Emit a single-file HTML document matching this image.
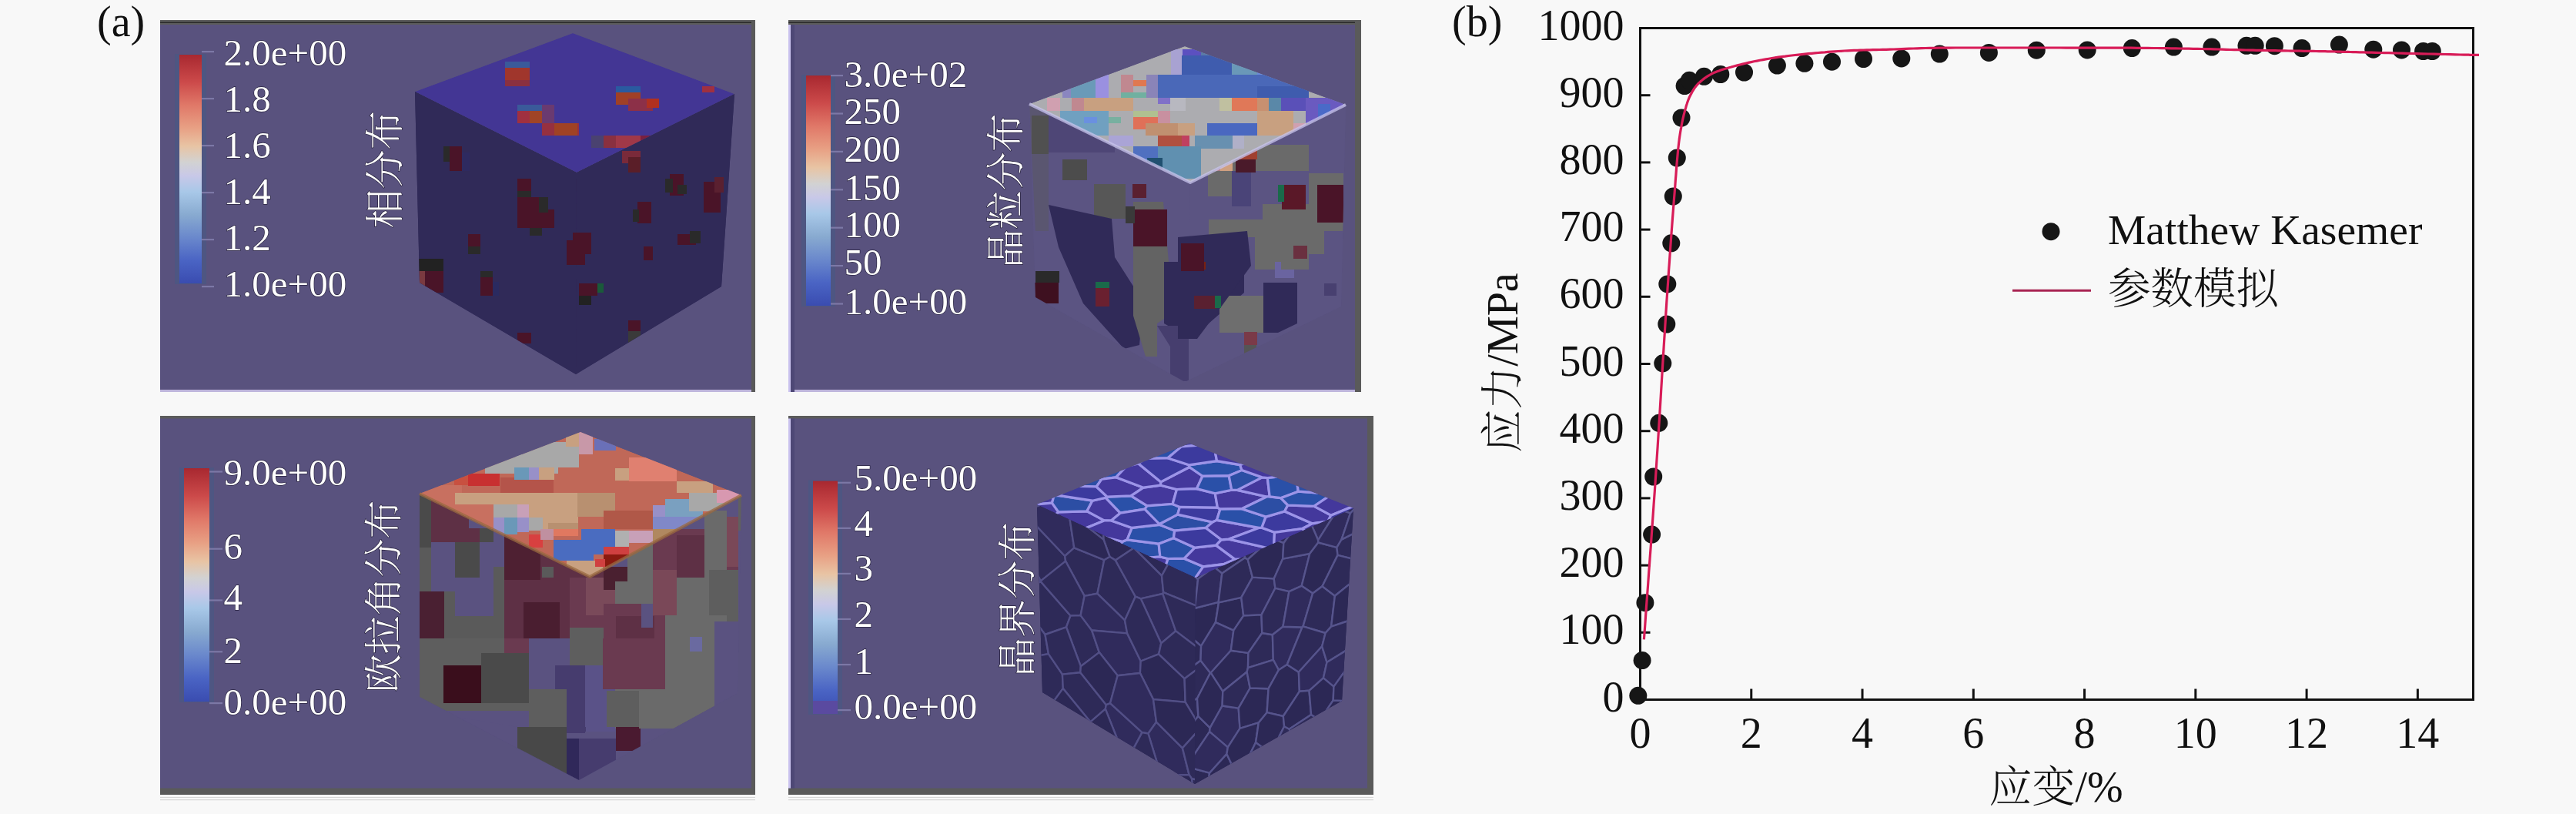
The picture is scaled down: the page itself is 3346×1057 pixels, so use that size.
<!DOCTYPE html><html><head><meta charset="utf-8"><style>html,body{margin:0;padding:0;background:#f8f8f8;}svg{display:block} text{font-family:'Liberation Serif', 'Noto Serif CJK SC', serif;}</style></head><body>
<svg width="3346" height="1057" viewBox="0 0 3346 1057">
<rect width="3346" height="1057" fill="#f8f8f8"/>
<text x="126" y="47" font-size="56" fill="#111">(a)</text>
<text x="1886" y="47" font-size="56" fill="#111">(b)</text>
<rect x="208" y="26" width="773" height="483" fill="#59527e"/>
<rect x="208" y="26" width="773" height="6" fill="#5c5c5c"/>
<rect x="208" y="28.5" width="773" height="1.5" fill="#2a2a2a"/>
<rect x="976" y="26" width="5" height="483" fill="#5a5a5a"/>
<rect x="208" y="506" width="768" height="3" fill="#d8d0f4" opacity="0.8"/>
<rect x="1024" y="26" width="744" height="483" fill="#59527e"/>
<rect x="1024" y="26" width="744" height="6" fill="#5c5c5c"/>
<rect x="1024" y="28.5" width="744" height="1.5" fill="#2a2a2a"/>
<rect x="1760" y="26" width="8" height="483" fill="#5a5a5a"/>
<rect x="1024" y="506" width="736" height="3" fill="#d8d0f4" opacity="0.8"/>
<rect x="1024" y="32" width="3" height="477" fill="#c9c2ee"/>
<rect x="1027" y="32" width="5" height="477" fill="#4e4876"/>
<rect x="208" y="540" width="773" height="492" fill="#59527e"/>
<rect x="208" y="540" width="773" height="3.5" fill="#5c5c5c"/>
<rect x="976" y="540" width="5" height="492" fill="#5a5a5a"/>
<rect x="208" y="1023.5" width="773" height="8.5" fill="#5a5a5a"/>
<rect x="1024" y="540" width="760" height="492" fill="#59527e"/>
<rect x="1024" y="540" width="760" height="3.5" fill="#5c5c5c"/>
<rect x="1776" y="540" width="8" height="492" fill="#5a5a5a"/>
<rect x="1024" y="1023.5" width="760" height="8.5" fill="#5a5a5a"/>
<rect x="1024" y="543.5" width="3" height="480.0" fill="#c9c2ee"/>
<rect x="1027" y="543.5" width="5" height="480.0" fill="#4e4876"/>
<rect x="208" y="1032.5" width="773" height="2" fill="#ffffff"/>
<rect x="208" y="1034.8" width="773" height="1.2" fill="#d6d6d6"/>
<rect x="208" y="1038" width="773" height="1.2" fill="#d6d6d6"/>
<rect x="1024" y="1032.5" width="760" height="2" fill="#ffffff"/>
<rect x="1024" y="1034.8" width="760" height="1.2" fill="#d6d6d6"/>
<rect x="1024" y="1038" width="760" height="1.2" fill="#d6d6d6"/>
<linearGradient id="cb1" x1="0" y1="0" x2="0" y2="1"><stop offset="0" stop-color="#a82830"/><stop offset="0.12" stop-color="#cc4a4a"/><stop offset="0.21999999999999997" stop-color="#e07868"/><stop offset="0.31999999999999995" stop-color="#e8a084"/><stop offset="0.4" stop-color="#e8c4a4"/><stop offset="0.47" stop-color="#d2d2d2"/><stop offset="0.53" stop-color="#c8c8e8"/><stop offset="0.6" stop-color="#a8c8e8"/><stop offset="0.7" stop-color="#88aad0"/><stop offset="0.8" stop-color="#6a88cc"/><stop offset="0.9" stop-color="#4a64c4"/><stop offset="1" stop-color="#3a4cb0"/></linearGradient>
<rect x="227" y="70" width="41" height="299" fill="#4e5682"/>
<rect x="233" y="71" width="29" height="297" fill="url(#cb1)"/>
<text x="290.5" y="85" font-size="49" fill="#fff" text-anchor="start" style="paint-order:stroke" stroke="#2a2540" stroke-width="1.4">2.0e+00</text>
<text x="290.5" y="145" font-size="49" fill="#fff" text-anchor="start" style="paint-order:stroke" stroke="#2a2540" stroke-width="1.4">1.8</text>
<text x="290.5" y="205" font-size="49" fill="#fff" text-anchor="start" style="paint-order:stroke" stroke="#2a2540" stroke-width="1.4">1.6</text>
<text x="290.5" y="265" font-size="49" fill="#fff" text-anchor="start" style="paint-order:stroke" stroke="#2a2540" stroke-width="1.4">1.4</text>
<text x="290.5" y="325" font-size="49" fill="#fff" text-anchor="start" style="paint-order:stroke" stroke="#2a2540" stroke-width="1.4">1.2</text>
<text x="290.5" y="384.5" font-size="49" fill="#fff" text-anchor="start" style="paint-order:stroke" stroke="#2a2540" stroke-width="1.4">1.0e+00</text>
<rect x="262" y="66" width="16" height="2.2" fill="#7c78a6"/>
<rect x="262" y="127" width="16" height="2.2" fill="#7c78a6"/>
<rect x="262" y="188" width="16" height="2.2" fill="#7c78a6"/>
<rect x="262" y="249" width="16" height="2.2" fill="#7c78a6"/>
<rect x="262" y="310" width="16" height="2.2" fill="#7c78a6"/>
<rect x="262" y="371" width="16" height="2.2" fill="#7c78a6"/>
<text x="0" y="0" font-size="51" fill="#fff" text-anchor="middle" dominant-baseline="central" transform="translate(500.5,220) rotate(-90)" font-weight="300" style="font-family:'Liberation Serif', 'Noto Serif CJK SC', serif;paint-order:stroke" stroke="#2a2540" stroke-width="1.5">相分布</text>
<clipPath id="c1s"><polygon points="539.0,119.0 749.0,224.0 954.0,122.0 937.0,372.0 748.0,486.0 545.0,367.0"/></clipPath>
<polygon points="539.0,119.0 749.0,224.0 954.0,122.0 937.0,372.0 748.0,486.0 545.0,367.0" fill="#302a58"/>
<polygon points="539.0,119.0 749.0,224.0 748.0,486.0 545.0,367.0" fill="#302a58"/>
<polygon points="749.0,224.0 954.0,122.0 937.0,372.0 748.0,486.0" fill="#302a58"/>
<g clip-path="url(#c1s)">
<rect x="584" y="190" width="16" height="32" fill="#4a1428"/>
<rect x="576" y="190" width="8" height="20" fill="#2a2a2a"/>
<rect x="600" y="198" width="10" height="24" fill="#2e2a60"/>
<rect x="672" y="232" width="18" height="16" fill="#4a1428"/>
<rect x="672" y="248" width="18" height="8" fill="#2a2a2a"/>
<rect x="672" y="256" width="32" height="40" fill="#4a1428"/>
<rect x="704" y="272" width="16" height="24" fill="#4a1428"/>
<rect x="700" y="256" width="12" height="20" fill="#2a2a2a"/>
<rect x="688" y="296" width="16" height="10" fill="#2a2a2a"/>
<rect x="608" y="304" width="16" height="16" fill="#4a1428"/>
<rect x="608" y="320" width="16" height="10" fill="#2a2a2a"/>
<rect x="544" y="336" width="32" height="16" fill="#222222"/>
<rect x="552" y="352" width="24" height="28" fill="#4a1428"/>
<rect x="544" y="352" width="8" height="20" fill="#7a3a40"/>
<rect x="624" y="352" width="16" height="8" fill="#2a2a2a"/>
<rect x="624" y="360" width="16" height="24" fill="#4a1428"/>
<rect x="640" y="366" width="8" height="18" fill="#2a2a60"/>
<rect x="672" y="432" width="18" height="14" fill="#4a1428"/>
<rect x="736" y="312" width="24" height="32" fill="#4a1428"/>
<rect x="808" y="196" width="24" height="16" fill="#7a2a3a"/>
<rect x="816" y="204" width="16" height="20" fill="#5a1e28"/>
<rect x="870" y="226" width="18" height="28" fill="#4a1428"/>
<rect x="864" y="232" width="10" height="18" fill="#2a2a2a"/>
<rect x="880" y="240" width="12" height="12" fill="#2a2a2a"/>
<rect x="914" y="236" width="22" height="40" fill="#4a1428"/>
<rect x="928" y="230" width="12" height="20" fill="#5a2030"/>
<rect x="828" y="262" width="18" height="28" fill="#4a1428"/>
<rect x="822" y="272" width="8" height="16" fill="#2a2a2a"/>
<rect x="744" y="302" width="24" height="28" fill="#4a1428"/>
<rect x="880" y="304" width="24" height="14" fill="#4a1428"/>
<rect x="896" y="300" width="14" height="16" fill="#2a2a2a"/>
<rect x="836" y="320" width="12" height="18" fill="#4a1428"/>
<rect x="752" y="368" width="24" height="16" fill="#4a1428"/>
<rect x="752" y="384" width="16" height="12" fill="#222222"/>
<rect x="776" y="368" width="8" height="12" fill="#1a5a3a"/>
<rect x="816" y="416" width="16" height="14" fill="#4a1428"/>
<rect x="816" y="430" width="16" height="18" fill="#3a3a3a"/>
<rect x="800" y="32" width="0" height="0" fill="#000"/>
</g>
<clipPath id="c1t"><polygon points="539.0,119.0 744.0,43.0 954.0,122.0 749.0,224.0"/></clipPath>
<g clip-path="url(#c1t)">
<polygon points="539.0,119.0 744.0,43.0 954.0,122.0 749.0,224.0" fill="#433694"/>
<rect x="656" y="80" width="32" height="8" fill="#3a5a9a"/>
<rect x="656" y="88" width="32" height="16" fill="#a0362c"/>
<rect x="656" y="104" width="32" height="8" fill="#8a3040"/>
<rect x="672" y="136" width="32" height="8" fill="#3a5a9a"/>
<rect x="672" y="144" width="32" height="16" fill="#a03040"/>
<rect x="688" y="144" width="16" height="16" fill="#a04426"/>
<rect x="704" y="136" width="16" height="24" fill="#6a3a70"/>
<rect x="704" y="160" width="48" height="16" fill="#963040"/>
<rect x="720" y="160" width="30" height="16" fill="#a04224"/>
<rect x="800" y="112" width="32" height="8" fill="#2a5aa0"/>
<rect x="800" y="120" width="32" height="16" fill="#a04026"/>
<rect x="816" y="128" width="32" height="16" fill="#8c3048"/>
<rect x="840" y="128" width="16" height="12" fill="#b03020"/>
<rect x="800" y="176" width="32" height="16" fill="#a03848"/>
<rect x="832" y="176" width="16" height="8" fill="#7a2040"/>
<rect x="768" y="176" width="16" height="16" fill="#4a4270"/>
<rect x="784" y="176" width="16" height="16" fill="#8a3040"/>
<rect x="912" y="112" width="16" height="8" fill="#a03040"/>
</g>
<linearGradient id="cb2" x1="0" y1="0" x2="0" y2="1"><stop offset="0" stop-color="#a82830"/><stop offset="0.12" stop-color="#cc4a4a"/><stop offset="0.21999999999999997" stop-color="#e07868"/><stop offset="0.31999999999999995" stop-color="#e8a084"/><stop offset="0.4" stop-color="#e8c4a4"/><stop offset="0.47" stop-color="#d2d2d2"/><stop offset="0.53" stop-color="#c8c8e8"/><stop offset="0.6" stop-color="#a8c8e8"/><stop offset="0.7" stop-color="#88aad0"/><stop offset="0.8" stop-color="#6a88cc"/><stop offset="0.9" stop-color="#4a64c4"/><stop offset="1" stop-color="#3a4cb0"/></linearGradient>
<rect x="1041" y="97" width="44" height="301" fill="#4e5682"/>
<rect x="1047" y="98" width="32" height="299" fill="url(#cb2)"/>
<text x="1096.5" y="113" font-size="49" fill="#fff" text-anchor="start" style="paint-order:stroke" stroke="#2a2540" stroke-width="1.4">3.0e+02</text>
<text x="1096.5" y="161" font-size="49" fill="#fff" text-anchor="start" style="paint-order:stroke" stroke="#2a2540" stroke-width="1.4">250</text>
<text x="1096.5" y="209.5" font-size="49" fill="#fff" text-anchor="start" style="paint-order:stroke" stroke="#2a2540" stroke-width="1.4">200</text>
<text x="1096.5" y="259.5" font-size="49" fill="#fff" text-anchor="start" style="paint-order:stroke" stroke="#2a2540" stroke-width="1.4">150</text>
<text x="1096.5" y="308" font-size="49" fill="#fff" text-anchor="start" style="paint-order:stroke" stroke="#2a2540" stroke-width="1.4">100</text>
<text x="1096.5" y="357" font-size="49" fill="#fff" text-anchor="start" style="paint-order:stroke" stroke="#2a2540" stroke-width="1.4">50</text>
<text x="1096.5" y="407.5" font-size="49" fill="#fff" text-anchor="start" style="paint-order:stroke" stroke="#2a2540" stroke-width="1.4">1.0e+00</text>
<rect x="1079" y="97.0" width="16" height="2.2" fill="#7c78a6"/>
<rect x="1079" y="146.4" width="16" height="2.2" fill="#7c78a6"/>
<rect x="1079" y="195.8" width="16" height="2.2" fill="#7c78a6"/>
<rect x="1079" y="245.2" width="16" height="2.2" fill="#7c78a6"/>
<rect x="1079" y="294.6" width="16" height="2.2" fill="#7c78a6"/>
<rect x="1079" y="344.0" width="16" height="2.2" fill="#7c78a6"/>
<rect x="1079" y="393.4" width="16" height="2.2" fill="#7c78a6"/>
<text x="0" y="0" font-size="50" fill="#fff" text-anchor="middle" dominant-baseline="central" transform="translate(1306.5,247.5) rotate(-90)" font-weight="300" style="font-family:'Liberation Serif', 'Noto Serif CJK SC', serif;paint-order:stroke" stroke="#2a2540" stroke-width="1.5">晶粒分布</text>
<clipPath id="c2s"><polygon points="1337.0,135.0 1546.0,237.0 1748.0,136.0 1742.0,398.0 1539.0,496.0 1345.0,386.0"/></clipPath>
<polygon points="1337.0,135.0 1546.0,237.0 1748.0,136.0 1742.0,398.0 1539.0,496.0 1345.0,386.0" fill="#5b5482"/>
<polygon points="1337.0,135.0 1546.0,237.0 1539.0,496.0 1345.0,386.0" fill="#5b5482"/>
<polygon points="1546.0,237.0 1748.0,136.0 1742.0,398.0 1539.0,496.0" fill="#5b5482"/>
<g clip-path="url(#c2s)">
<polygon points="1337.0,135.0 1362.0,150.0 1362.0,300.0 1345.0,300.0" fill="#5a5670"/>
<rect x="1340" y="150" width="22" height="50" fill="#505050"/>
<rect x="1362" y="150" width="86" height="48" fill="#4e4676"/>
<rect x="1380" y="207" width="32" height="27" fill="#4c4c4c"/>
<rect x="1421" y="239" width="41" height="45" fill="#575757"/>
<polygon points="1362.0,266.0 1444.0,284.0 1448.0,334.0 1485.0,392.0 1480.0,448.0 1460.0,453.0 1407.0,394.0 1375.0,321.0" fill="#302a58"/>
<polygon points="1472.0,262.0 1511.0,262.0 1518.0,340.0 1518.0,410.0 1503.0,420.0 1503.0,463.0 1488.0,463.0 1472.0,410.0" fill="#636363"/>
<polygon points="1512.0,340.0 1616.0,340.0 1616.0,380.0 1547.0,440.0 1512.0,420.0" fill="#302a58"/>
<polygon points="1503.0,423.0 1560.0,423.0 1544.0,440.0 1544.0,495.0 1520.0,495.0 1520.0,450.0" fill="#463e6e"/>
<rect x="1584" y="384" width="63" height="48" fill="#6e6e6e"/>
<polygon points="1641.0,367.0 1685.0,367.0 1685.0,420.0 1660.0,432.0 1641.0,432.0" fill="#302a58"/>
<rect x="1569" y="188" width="51" height="67" fill="#6a6a6a"/>
<rect x="1620" y="188" width="80" height="34" fill="#6a6a6a"/>
<rect x="1600" y="222" width="25" height="46" fill="#4a4478"/>
<rect x="1640" y="265" width="60" height="35" fill="#6a6a6a"/>
<rect x="1570" y="285" width="90" height="23" fill="#6a6a6a"/>
<rect x="1630" y="300" width="70" height="50" fill="#6a6a6a"/>
<rect x="1700" y="225" width="45" height="75" fill="#6a6a6a"/>
<rect x="1680" y="300" width="40" height="30" fill="#6a6a6a"/>
<polygon points="1530.0,308.0 1620.0,300.0 1625.0,345.0 1585.0,400.0 1555.0,440.0 1530.0,440.0" fill="#302a58"/>
<rect x="1656" y="340" width="25" height="21" fill="#6a64a0"/>
<rect x="1664" y="340" width="31" height="10" fill="#6a6a6a"/>
<rect x="1720" y="368" width="16" height="16" fill="#484070"/>
<rect x="1345" y="352" width="31" height="15" fill="#2a2a2a"/>
<rect x="1344" y="367" width="31" height="27" fill="#3e1020"/>
<rect x="1423" y="366" width="18" height="8" fill="#1a6a4a"/>
<rect x="1423" y="374" width="18" height="24" fill="#6a2030"/>
<rect x="1551" y="384" width="29" height="17" fill="#5a2030"/>
<rect x="1578" y="384" width="8" height="16" fill="#1a6a4a"/>
<rect x="1616" y="431" width="17" height="17" fill="#7a3a48"/>
<rect x="1616" y="448" width="16" height="15" fill="#555555"/>
<rect x="1537" y="340" width="29" height="10" fill="#7a2010"/>
<rect x="1472" y="272" width="44" height="48" fill="#4a1428"/>
<rect x="1462" y="268" width="12" height="22" fill="#3a3a3a"/>
<rect x="1471" y="239" width="18" height="18" fill="#5a2030"/>
<rect x="1665" y="240" width="31" height="32" fill="#5a1828"/>
<rect x="1660" y="240" width="8" height="22" fill="#1a6a4a"/>
<rect x="1711" y="240" width="34" height="49" fill="#4a1428"/>
<rect x="1534" y="316" width="30" height="36" fill="#4a1428"/>
<rect x="1680" y="319" width="18" height="17" fill="#6a3040"/>
<rect x="1568" y="195" width="17" height="27" fill="#b08088"/>
<rect x="1585" y="195" width="16" height="27" fill="#d0a080"/>
<rect x="1601" y="192" width="32" height="15" fill="#a04030"/>
<rect x="1605" y="207" width="26" height="17" fill="#4a1a2a"/>
</g>
<clipPath id="c2t"><polygon points="1337.0,135.0 1539.0,60.0 1748.0,136.0 1546.0,237.0"/></clipPath>
<g clip-path="url(#c2t)">
<polygon points="1337.0,135.0 1539.0,60.0 1748.0,136.0 1546.0,237.0" fill="#acacb0"/>
<rect x="1535" y="64" width="25" height="8" fill="#5c50c0"/>
<rect x="1560" y="64" width="30" height="8" fill="#5a7aa8"/>
<rect x="1521" y="64" width="15" height="33" fill="#a8a2d2"/>
<rect x="1535" y="72" width="65" height="25" fill="#3f5cae"/>
<rect x="1600" y="80" width="33" height="32" fill="#6a98b8"/>
<rect x="1633" y="90" width="27" height="22" fill="#6a8ad8"/>
<rect x="1504" y="97" width="196" height="30" fill="#4a68b8"/>
<rect x="1633" y="112" width="67" height="15" fill="#3f5cae"/>
<rect x="1380" y="104" width="12" height="23" fill="#8a86c0"/>
<rect x="1391" y="97" width="32" height="30" fill="#6a9ab8"/>
<rect x="1423" y="97" width="17" height="30" fill="#9a90e0"/>
<rect x="1456" y="97" width="16" height="23" fill="#c08890"/>
<rect x="1472" y="104" width="17" height="8" fill="#e07850"/>
<rect x="1456" y="120" width="33" height="7" fill="#70b0a0"/>
<rect x="1489" y="97" width="15" height="30" fill="#8a84b8"/>
<rect x="1360" y="127" width="17" height="17" fill="#d0a0b0"/>
<rect x="1392" y="127" width="16" height="17" fill="#c08890"/>
<rect x="1408" y="127" width="64" height="17" fill="#c8a080"/>
<rect x="1504" y="127" width="16" height="8" fill="#8070c8"/>
<rect x="1520" y="127" width="20" height="17" fill="#b8b8c0"/>
<rect x="1584" y="127" width="16" height="17" fill="#c0c0a0"/>
<rect x="1600" y="127" width="33" height="17" fill="#e07858"/>
<rect x="1633" y="127" width="15" height="17" fill="#c89070"/>
<rect x="1648" y="127" width="16" height="17" fill="#5a88a8"/>
<rect x="1664" y="127" width="32" height="17" fill="#5a50b8"/>
<rect x="1696" y="127" width="49" height="33" fill="#6a5ac0"/>
<rect x="1712" y="135" width="16" height="25" fill="#4a6ac8"/>
<rect x="1377" y="144" width="63" height="32" fill="#70a0c0"/>
<rect x="1408" y="152" width="17" height="8" fill="#6a90e0"/>
<rect x="1440" y="152" width="16" height="8" fill="#78b0a0"/>
<rect x="1472" y="144" width="32" height="8" fill="#b0c090"/>
<rect x="1472" y="152" width="32" height="16" fill="#e07058"/>
<rect x="1504" y="144" width="16" height="16" fill="#c890a0"/>
<rect x="1488" y="160" width="42" height="16" fill="#c09070"/>
<rect x="1530" y="160" width="22" height="16" fill="#c8a080"/>
<rect x="1633" y="144" width="47" height="32" fill="#c8a080"/>
<rect x="1568" y="160" width="65" height="16" fill="#4a68c0"/>
<rect x="1680" y="160" width="16" height="16" fill="#d0a0b0"/>
<rect x="1696" y="160" width="8" height="16" fill="#909040"/>
<rect x="1440" y="176" width="32" height="14" fill="#aaa4d6"/>
<rect x="1504" y="176" width="31" height="16" fill="#b05040"/>
<rect x="1535" y="176" width="10" height="16" fill="#c04060"/>
<rect x="1552" y="176" width="49" height="17" fill="#6890b0"/>
<rect x="1601" y="176" width="15" height="17" fill="#b0b0c8"/>
<rect x="1472" y="190" width="32" height="28" fill="#5070c0"/>
<rect x="1504" y="190" width="56" height="42" fill="#6090b0"/>
<rect x="1490" y="205" width="20" height="20" fill="#205070"/>
</g>
<polyline points="1337.0,135.0 1546.0,237.0 1748.0,136.0" fill="none" stroke="#c8c4ec" stroke-width="4" stroke-opacity="0.75" stroke-linejoin="round"/>
<linearGradient id="cb3" x1="0" y1="0" x2="0" y2="1"><stop offset="0" stop-color="#a82830"/><stop offset="0.12" stop-color="#cc4a4a"/><stop offset="0.21999999999999997" stop-color="#e07868"/><stop offset="0.31999999999999995" stop-color="#e8a084"/><stop offset="0.4" stop-color="#e8c4a4"/><stop offset="0.47" stop-color="#d2d2d2"/><stop offset="0.53" stop-color="#c8c8e8"/><stop offset="0.6" stop-color="#a8c8e8"/><stop offset="0.7" stop-color="#88aad0"/><stop offset="0.8" stop-color="#6a88cc"/><stop offset="0.9" stop-color="#4a64c4"/><stop offset="1" stop-color="#3a4cb0"/></linearGradient>
<rect x="233" y="607" width="45" height="305" fill="#4e5682"/>
<rect x="239" y="608" width="33" height="303" fill="url(#cb3)"/>
<text x="290.5" y="630" font-size="49" fill="#fff" text-anchor="start" style="paint-order:stroke" stroke="#2a2540" stroke-width="1.4">9.0e+00</text>
<text x="290.5" y="725.5" font-size="49" fill="#fff" text-anchor="start" style="paint-order:stroke" stroke="#2a2540" stroke-width="1.4">6</text>
<text x="290.5" y="792" font-size="49" fill="#fff" text-anchor="start" style="paint-order:stroke" stroke="#2a2540" stroke-width="1.4">4</text>
<text x="290.5" y="861" font-size="49" fill="#fff" text-anchor="start" style="paint-order:stroke" stroke="#2a2540" stroke-width="1.4">2</text>
<text x="290.5" y="928" font-size="49" fill="#fff" text-anchor="start" style="paint-order:stroke" stroke="#2a2540" stroke-width="1.4">0.0e+00</text>
<rect x="272" y="611.4000000000001" width="17" height="2.2" fill="#7c78a6"/>
<rect x="272" y="711.6" width="17" height="2.2" fill="#7c78a6"/>
<rect x="272" y="778.4" width="17" height="2.2" fill="#7c78a6"/>
<rect x="272" y="845.2" width="17" height="2.2" fill="#7c78a6"/>
<rect x="272" y="912.0" width="17" height="2.2" fill="#7c78a6"/>
<text x="0" y="0" font-size="50" fill="#fff" text-anchor="middle" dominant-baseline="central" transform="translate(499,774.5) rotate(-90)" font-weight="300" style="font-family:'Liberation Serif', 'Noto Serif CJK SC', serif;paint-order:stroke" stroke="#2a2540" stroke-width="1.5">欧拉角分布</text>
<clipPath id="c3s"><polygon points="545.0,641.0 766.0,749.0 963.0,643.0 958.0,900.0 752.0,1013.0 545.0,905.0"/></clipPath>
<polygon points="545.0,641.0 766.0,749.0 963.0,643.0 958.0,900.0 752.0,1013.0 545.0,905.0" fill="#5a5280"/>
<polygon points="545.0,641.0 766.0,749.0 752.0,1013.0 545.0,905.0" fill="#5a5280"/>
<polygon points="766.0,749.0 963.0,643.0 958.0,900.0 752.0,1013.0" fill="#5a5280"/>
<g clip-path="url(#c3s)">
<rect x="545" y="641" width="15" height="70" fill="#4a4a4a"/>
<rect x="545" y="711" width="15" height="57" fill="#5a5a5a"/>
<rect x="560" y="645" width="49" height="59" fill="#5e3045"/>
<rect x="577" y="686" width="46" height="35" fill="#5e3045"/>
<rect x="623" y="686" width="18" height="18" fill="#4a4a4a"/>
<rect x="591" y="704" width="32" height="46" fill="#4a4a4a"/>
<rect x="560" y="704" width="31" height="64" fill="#5a5280"/>
<rect x="623" y="704" width="32" height="49" fill="#5a5280"/>
<rect x="577" y="768" width="14" height="61" fill="#5a5a5a"/>
<rect x="591" y="750" width="50" height="50" fill="#5a5280"/>
<rect x="591" y="800" width="50" height="29" fill="#5a5a5a"/>
<rect x="641" y="736" width="14" height="93" fill="#5a5a5a"/>
<rect x="545" y="768" width="32" height="61" fill="#4a2032"/>
<rect x="655" y="690" width="135" height="139" fill="#5e3045"/>
<rect x="655" y="690" width="47" height="63" fill="#4e2032"/>
<rect x="680" y="782" width="47" height="47" fill="#4a1e30"/>
<rect x="761" y="750" width="29" height="79" fill="#764858"/>
<rect x="704" y="736" width="15" height="14" fill="#5a5a5a"/>
<rect x="740" y="750" width="44" height="83" fill="#6a3a50"/>
<rect x="761" y="750" width="38" height="49" fill="#7a4a5a"/>
<rect x="784" y="736" width="33" height="30" fill="#4a2030"/>
<rect x="799" y="755" width="49" height="44" fill="#6a6a6a"/>
<rect x="784" y="784" width="80" height="111" fill="#6a3a50"/>
<rect x="800" y="800" width="50" height="80" fill="#5e3045"/>
<rect x="833" y="784" width="15" height="31" fill="#5a5280"/>
<rect x="848" y="687" width="111" height="73" fill="#6a3a50"/>
<rect x="879" y="695" width="42" height="65" fill="#5e3045"/>
<rect x="815" y="705" width="33" height="55" fill="#6a6a6a"/>
<rect x="915" y="663" width="29" height="97" fill="#6a6a6a"/>
<rect x="944" y="671" width="15" height="65" fill="#7a4858"/>
<rect x="959" y="640" width="17" height="49" fill="#606060"/>
<rect x="848" y="740" width="31" height="59" fill="#7a4858"/>
<rect x="879" y="750" width="42" height="49" fill="#6a6a6a"/>
<rect x="921" y="740" width="38" height="67" fill="#5e5e5e"/>
<rect x="864" y="799" width="80" height="101" fill="#6a6a6a"/>
<rect x="928" y="807" width="32" height="93" fill="#5a5280"/>
<rect x="784" y="895" width="144" height="51" fill="#6a6a6a"/>
<rect x="896" y="827" width="16" height="19" fill="#6a6aa0"/>
<rect x="740" y="815" width="44" height="49" fill="#5e5e5e"/>
<rect x="740" y="864" width="21" height="86" fill="#463c6e"/>
<rect x="761" y="864" width="38" height="86" fill="#5a5288"/>
<rect x="545" y="829" width="142" height="94" fill="#5e5e5e"/>
<rect x="625" y="848" width="62" height="65" fill="#4a4a4a"/>
<rect x="576" y="864" width="49" height="49" fill="#3a0e1c"/>
<rect x="687" y="829" width="34" height="66" fill="#5a5280"/>
<rect x="721" y="864" width="39" height="88" fill="#463c6e"/>
<rect x="760" y="864" width="25" height="80" fill="#5a5288"/>
<rect x="655" y="829" width="32" height="19" fill="#6a3a50"/>
<rect x="687" y="895" width="49" height="64" fill="#5e5e5e"/>
<rect x="672" y="944" width="64" height="61" fill="#484848"/>
<rect x="736" y="959" width="16" height="54" fill="#30285a"/>
<rect x="752" y="959" width="48" height="54" fill="#463c6e"/>
<rect x="800" y="944" width="32" height="31" fill="#4a1a30"/>
<rect x="788" y="897" width="72" height="47" fill="#5e5e5e"/>
<rect x="783" y="829" width="77" height="66" fill="#6a3a50"/>
<rect x="830" y="895" width="98" height="51" fill="#6a6a6a"/>
<polygon points="545.0,905.0 545.0,923.0 672.0,944.0 672.0,1005.0 752.0,1013.0" fill="#5a5280"/>
</g>
<clipPath id="c3t"><polygon points="545.0,641.0 754.0,561.0 963.0,643.0 766.0,749.0"/></clipPath>
<g clip-path="url(#c3t)">
<polygon points="545.0,641.0 754.0,561.0 963.0,643.0 766.0,749.0" fill="#c06858"/>
<rect x="545" y="630" width="55" height="30" fill="#c87060"/>
<rect x="560" y="640" width="81" height="47" fill="#c87060"/>
<rect x="591" y="640" width="160" height="47" fill="#c8a080"/>
<rect x="591" y="655" width="50" height="32" fill="#c87060"/>
<rect x="630" y="590" width="95" height="25" fill="#a8a8a8"/>
<rect x="670" y="574" width="82" height="33" fill="#a8a8a8"/>
<rect x="735" y="561" width="17" height="19" fill="#c8a080"/>
<rect x="752" y="561" width="18" height="29" fill="#c898a8"/>
<rect x="772" y="570" width="28" height="15" fill="#6a70b8"/>
<rect x="590" y="612" width="20" height="18" fill="#c85040"/>
<rect x="608" y="615" width="41" height="16" fill="#c83030"/>
<rect x="650" y="620" width="69" height="20" fill="#b4544a"/>
<rect x="668" y="607" width="19" height="16" fill="#6a98b8"/>
<rect x="687" y="607" width="13" height="16" fill="#9890c8"/>
<rect x="700" y="607" width="20" height="16" fill="#c8a080"/>
<rect x="641" y="655" width="31" height="17" fill="#a8a8a8"/>
<rect x="672" y="655" width="15" height="17" fill="#c8a0b8"/>
<rect x="641" y="672" width="14" height="22" fill="#9890c8"/>
<rect x="655" y="672" width="17" height="22" fill="#6a98b8"/>
<rect x="672" y="672" width="15" height="19" fill="#9890c8"/>
<rect x="687" y="672" width="18" height="17" fill="#a8a8a8"/>
<rect x="687" y="694" width="18" height="17" fill="#d84040"/>
<rect x="702" y="687" width="17" height="14" fill="#c090a0"/>
<rect x="719" y="687" width="32" height="9" fill="#e07860"/>
<rect x="712" y="679" width="39" height="8" fill="#b89070"/>
<rect x="750" y="640" width="49" height="31" fill="#b89070"/>
<rect x="799" y="608" width="31" height="16" fill="#c8a080"/>
<rect x="817" y="594" width="62" height="31" fill="#e08070"/>
<rect x="784" y="663" width="64" height="24" fill="#b05848"/>
<rect x="848" y="656" width="16" height="15" fill="#9890c8"/>
<rect x="864" y="648" width="49" height="23" fill="#7aa0c0"/>
<rect x="895" y="640" width="49" height="24" fill="#a8a8a8"/>
<rect x="879" y="625" width="47" height="15" fill="#c8a080"/>
<rect x="931" y="636" width="32" height="17" fill="#d898b0"/>
<rect x="848" y="671" width="65" height="16" fill="#8088c8"/>
<rect x="848" y="687" width="31" height="18" fill="#b08860"/>
<rect x="719" y="701" width="52" height="27" fill="#4a6cc0"/>
<rect x="755" y="687" width="44" height="33" fill="#4a6cc0"/>
<rect x="771" y="687" width="19" height="24" fill="#4a6cc0"/>
<rect x="799" y="689" width="18" height="21" fill="#b0b0b0"/>
<rect x="817" y="689" width="31" height="16" fill="#c8a0b8"/>
<rect x="784" y="710" width="33" height="21" fill="#d04040"/>
<rect x="784" y="720" width="33" height="16" fill="#8a1a10"/>
<rect x="736" y="728" width="47" height="21" fill="#c8a080"/>
<rect x="773" y="726" width="13" height="10" fill="#d04040"/>
</g>
<polyline points="545.0,641.0 766.0,749.0 963.0,643.0" fill="none" stroke="#9a6a40" stroke-width="4" stroke-opacity="0.75" stroke-linejoin="round"/>
<linearGradient id="cb4" x1="0" y1="0" x2="0" y2="1"><stop offset="0" stop-color="#a82830"/><stop offset="0.12" stop-color="#cc4a4a"/><stop offset="0.21999999999999997" stop-color="#e07868"/><stop offset="0.31999999999999995" stop-color="#e8a084"/><stop offset="0.4" stop-color="#e8c4a4"/><stop offset="0.47" stop-color="#d2d2d2"/><stop offset="0.53" stop-color="#c8c8e8"/><stop offset="0.6" stop-color="#a8c8e8"/><stop offset="0.7" stop-color="#88aad0"/><stop offset="0.8" stop-color="#6a88cc"/><stop offset="0.9" stop-color="#4a64c4"/><stop offset="1" stop-color="#3a4cb0"/></linearGradient>
<rect x="1050" y="623.5" width="44" height="304.5" fill="#4e5682"/>
<rect x="1056" y="624.5" width="32" height="302.5" fill="url(#cb4)"/>
<rect x="1056" y="910" width="32" height="17" fill="#5a4aa0"/>
<text x="1109.5" y="637" font-size="49" fill="#fff" text-anchor="start" style="paint-order:stroke" stroke="#2a2540" stroke-width="1.4">5.0e+00</text>
<text x="1109.5" y="695.5" font-size="49" fill="#fff" text-anchor="start" style="paint-order:stroke" stroke="#2a2540" stroke-width="1.4">4</text>
<text x="1109.5" y="754" font-size="49" fill="#fff" text-anchor="start" style="paint-order:stroke" stroke="#2a2540" stroke-width="1.4">3</text>
<text x="1109.5" y="814" font-size="49" fill="#fff" text-anchor="start" style="paint-order:stroke" stroke="#2a2540" stroke-width="1.4">2</text>
<text x="1109.5" y="874.5" font-size="49" fill="#fff" text-anchor="start" style="paint-order:stroke" stroke="#2a2540" stroke-width="1.4">1</text>
<text x="1109.5" y="933.5" font-size="49" fill="#fff" text-anchor="start" style="paint-order:stroke" stroke="#2a2540" stroke-width="1.4">0.0e+00</text>
<rect x="1088" y="921.0" width="17" height="2.2" fill="#7c78a6"/>
<rect x="1088" y="861.94" width="17" height="2.2" fill="#7c78a6"/>
<rect x="1088" y="802.88" width="17" height="2.2" fill="#7c78a6"/>
<rect x="1088" y="743.8199999999999" width="17" height="2.2" fill="#7c78a6"/>
<rect x="1088" y="684.76" width="17" height="2.2" fill="#7c78a6"/>
<rect x="1088" y="625.7" width="17" height="2.2" fill="#7c78a6"/>
<text x="0" y="0" font-size="50" fill="#fff" text-anchor="middle" dominant-baseline="central" transform="translate(1322,778) rotate(-90)" font-weight="300" style="font-family:'Liberation Serif', 'Noto Serif CJK SC', serif;paint-order:stroke" stroke="#2a2540" stroke-width="1.5">晶界分布</text>
<polygon points="1347.0,655.0 1553.0,750.0 1758.0,660.0 1743.0,910.0 1552.0,1018.0 1354.0,899.0" fill="#2e2a58"/>
<clipPath id="c4l"><polygon points="1347.0,655.0 1553.0,750.0 1552.0,1018.0 1354.0,899.0"/></clipPath>
<g clip-path="url(#c4l)">
<polygon points="1347.0,655.0 1553.0,750.0 1552.0,1018.0 1354.0,899.0" fill="#2e2a58"/>
<polygon points="1297.5,579.3 1265.3,605.2 1286.1,626.3 1324.6,634.3 1322.9,612.3" fill="#2e2a58" stroke="#524f86" stroke-width="2.4" stroke-linejoin="round"/>
<polygon points="1326.7,699.3 1294.4,655.9 1266.7,687.8 1299.2,709.1 1326.6,699.4" fill="#2e2a58" stroke="#524f86" stroke-width="2.4" stroke-linejoin="round"/>
<polygon points="1282.2,828.6 1200.5,745.3 1316.8,793.1 1312.7,829.9" fill="#2e2a58" stroke="#524f86" stroke-width="2.4" stroke-linejoin="round"/>
<polygon points="1294.5,864.4 1338.3,885.2 1333.1,854.4 1312.7,829.9 1282.2,828.6" fill="#302b5c" stroke="#524f86" stroke-width="2.4" stroke-linejoin="round"/>
<polygon points="1297.5,579.3 1322.9,612.3 1337.1,594.7 1296.1,444.7" fill="#2c2855" stroke="#524f86" stroke-width="2.4" stroke-linejoin="round"/>
<polygon points="1344.0,658.6 1324.6,634.3 1322.9,612.3 1337.1,594.7 1381.3,631.7 1381.3,632.1 1378.7,645.2" fill="#2e2a58" stroke="#524f86" stroke-width="2.4" stroke-linejoin="round"/>
<polygon points="1345.2,681.9 1326.7,699.3 1294.4,655.9 1286.1,626.3 1324.6,634.3 1344.0,658.6" fill="#2e2a58" stroke="#524f86" stroke-width="2.4" stroke-linejoin="round"/>
<polygon points="1383.2,722.0 1384.1,728.6 1351.5,754.6 1326.6,699.4 1326.7,699.3 1345.2,681.9" fill="#2e2a58" stroke="#524f86" stroke-width="2.4" stroke-linejoin="round"/>
<polygon points="1324.9,777.6 1315.6,764.7 1299.2,709.1 1326.6,699.4 1351.5,754.6 1351.5,754.8" fill="#2e2a58" stroke="#524f86" stroke-width="2.4" stroke-linejoin="round"/>
<polygon points="1390.5,799.5 1351.5,754.8 1324.9,777.6 1325.6,781.7 1357.5,824.0 1385.0,814.4" fill="#2e2a58" stroke="#524f86" stroke-width="2.4" stroke-linejoin="round"/>
<polygon points="1312.7,829.9 1316.8,793.1 1325.6,781.7 1357.5,824.0 1361.9,849.1 1333.1,854.4" fill="#2e2a58" stroke="#524f86" stroke-width="2.4" stroke-linejoin="round"/>
<polygon points="1338.3,885.2 1351.6,913.1 1362.4,919.1 1380.8,893.9 1379.9,875.6 1361.9,849.1 1333.1,854.4" fill="#2e2a58" stroke="#524f86" stroke-width="2.4" stroke-linejoin="round"/>
<polygon points="1294.5,864.4 1296.0,897.1 1339.9,922.5 1351.6,913.1 1338.3,885.2" fill="#2c2855" stroke="#524f86" stroke-width="2.4" stroke-linejoin="round"/>
<polygon points="1433.6,700.9 1432.2,664.2 1381.3,632.1 1378.7,645.2 1388.2,665.1" fill="#2c2855" stroke="#524f86" stroke-width="2.4" stroke-linejoin="round"/>
<polygon points="1388.2,665.1 1378.7,645.2 1344.0,658.6 1345.2,681.9 1383.2,722.0 1395.2,711.3" fill="#302b5c" stroke="#524f86" stroke-width="2.4" stroke-linejoin="round"/>
<polygon points="1434.2,727.2 1425.4,770.8 1408.6,773.9 1384.1,728.6 1383.2,722.0 1395.2,711.3" fill="#2e2a58" stroke="#524f86" stroke-width="2.4" stroke-linejoin="round"/>
<polygon points="1390.5,799.5 1351.5,754.8 1351.5,754.6 1384.1,728.6 1408.6,773.9 1403.6,799.1" fill="#2e2a58" stroke="#524f86" stroke-width="2.4" stroke-linejoin="round"/>
<polygon points="1403.8,865.2 1385.0,814.4 1390.5,799.5 1403.6,799.1 1418.1,818.5 1427.8,847.1" fill="#2e2a58" stroke="#524f86" stroke-width="2.4" stroke-linejoin="round"/>
<polygon points="1403.8,865.2 1403.3,873.3 1379.9,875.6 1361.9,849.1 1357.5,824.0 1385.0,814.4" fill="#2e2a58" stroke="#524f86" stroke-width="2.4" stroke-linejoin="round"/>
<polygon points="1436.8,915.3 1403.3,873.3 1379.9,875.6 1380.8,893.9 1416.4,937.4 1435.8,920.6" fill="#2e2a58" stroke="#524f86" stroke-width="2.4" stroke-linejoin="round"/>
<polygon points="1416.4,937.4 1415.6,970.7 1369.8,931.5 1362.4,919.1 1380.8,893.9" fill="#2c2855" stroke="#524f86" stroke-width="2.4" stroke-linejoin="round"/>
<polygon points="1432.2,664.2 1381.3,632.1 1381.3,631.7 1421.6,448.4 1440.9,655.4" fill="#302b5c" stroke="#524f86" stroke-width="2.4" stroke-linejoin="round"/>
<polygon points="1472.8,711.6 1474.7,683.1 1440.9,655.4 1432.2,664.2 1433.6,700.9 1441.5,723.0 1448.8,727.4" fill="#2c2855" stroke="#524f86" stroke-width="2.4" stroke-linejoin="round"/>
<polygon points="1441.5,723.0 1433.6,700.9 1388.2,665.1 1395.2,711.3 1434.2,727.2" fill="#2c2855" stroke="#524f86" stroke-width="2.4" stroke-linejoin="round"/>
<polygon points="1474.8,774.7 1461.0,805.4 1425.4,770.8 1434.2,727.2 1441.5,723.0 1448.8,727.4" fill="#2e2a58" stroke="#524f86" stroke-width="2.4" stroke-linejoin="round"/>
<polygon points="1418.1,818.5 1464.1,822.4 1461.0,805.4 1425.4,770.8 1408.6,773.9 1403.6,799.1" fill="#302b5c" stroke="#524f86" stroke-width="2.4" stroke-linejoin="round"/>
<polygon points="1427.8,847.1 1451.7,877.3 1480.9,874.0 1481.7,858.5 1464.1,822.4 1418.1,818.5" fill="#302b5c" stroke="#524f86" stroke-width="2.4" stroke-linejoin="round"/>
<polygon points="1403.8,865.2 1403.3,873.3 1436.8,915.3 1442.0,913.2 1451.7,877.3 1427.8,847.1" fill="#2c2855" stroke="#524f86" stroke-width="2.4" stroke-linejoin="round"/>
<polygon points="1483.5,951.1 1442.0,913.2 1436.8,915.3 1435.8,920.6 1460.6,983.0 1465.0,985.6" fill="#302b5c" stroke="#524f86" stroke-width="2.4" stroke-linejoin="round"/>
<polygon points="1435.8,920.6 1460.6,983.0 1425.8,997.2 1415.6,970.7 1416.4,937.4" fill="#2c2855" stroke="#524f86" stroke-width="2.4" stroke-linejoin="round"/>
<polygon points="1465.0,985.6 1460.6,983.0 1425.8,997.2 1430.0,1117.7 1488.5,1020.8" fill="#2e2a58" stroke="#524f86" stroke-width="2.4" stroke-linejoin="round"/>
<polygon points="1509.0,747.7 1528.2,712.6 1526.6,704.1 1503.9,663.8 1474.7,683.1 1472.8,711.6" fill="#2c2855" stroke="#524f86" stroke-width="2.4" stroke-linejoin="round"/>
<polygon points="1510.3,771.0 1481.7,777.3 1474.8,774.7 1448.8,727.4 1472.8,711.6 1509.0,747.7 1511.1,769.1" fill="#302b5c" stroke="#524f86" stroke-width="2.4" stroke-linejoin="round"/>
<polygon points="1510.3,771.0 1527.2,819.4 1508.2,835.3 1481.7,777.3" fill="#302b5c" stroke="#524f86" stroke-width="2.4" stroke-linejoin="round"/>
<polygon points="1481.7,777.3 1508.2,835.3 1505.1,849.4 1481.7,858.5 1464.1,822.4 1461.0,805.4 1474.8,774.7" fill="#2e2a58" stroke="#524f86" stroke-width="2.4" stroke-linejoin="round"/>
<polygon points="1480.9,874.0 1498.0,908.1 1539.6,911.7 1538.6,881.2 1505.1,849.4 1481.7,858.5" fill="#2c2855" stroke="#524f86" stroke-width="2.4" stroke-linejoin="round"/>
<polygon points="1491.4,952.5 1502.0,937.5 1498.0,908.1 1480.9,874.0 1451.7,877.3 1442.0,913.2 1483.5,951.1" fill="#302b5c" stroke="#524f86" stroke-width="2.4" stroke-linejoin="round"/>
<polygon points="1491.4,952.5 1502.0,937.5 1535.9,971.4 1544.6,1006.1 1508.0,1006.7" fill="#302b5c" stroke="#524f86" stroke-width="2.4" stroke-linejoin="round"/>
<polygon points="1491.4,952.5 1508.0,1006.7 1503.0,1026.3 1488.5,1020.8 1465.0,985.6 1483.5,951.1" fill="#2e2a58" stroke="#524f86" stroke-width="2.4" stroke-linejoin="round"/>
<polygon points="1528.2,712.6 1567.8,764.4 1571.3,763.5 1578.7,728.3 1564.1,693.2 1526.6,704.1" fill="#2c2855" stroke="#524f86" stroke-width="2.4" stroke-linejoin="round"/>
<polygon points="1511.1,769.1 1562.2,790.1 1567.8,764.4 1528.2,712.6 1509.0,747.7" fill="#2e2a58" stroke="#524f86" stroke-width="2.4" stroke-linejoin="round"/>
<polygon points="1510.3,771.0 1527.2,819.4 1558.1,842.9 1570.0,829.9 1562.2,790.1 1511.1,769.1" fill="#2e2a58" stroke="#524f86" stroke-width="2.4" stroke-linejoin="round"/>
<polygon points="1527.2,819.4 1558.1,842.9 1558.1,866.7 1538.6,881.2 1505.1,849.4 1508.2,835.3" fill="#2e2a58" stroke="#524f86" stroke-width="2.4" stroke-linejoin="round"/>
<polygon points="1558.1,866.7 1538.6,881.2 1539.6,911.7 1559.7,945.1 1563.1,946.8 1581.1,925.0 1583.3,909.8" fill="#2c2855" stroke="#524f86" stroke-width="2.4" stroke-linejoin="round"/>
<polygon points="1502.0,937.5 1498.0,908.1 1539.6,911.7 1559.7,945.1 1535.9,971.4" fill="#2c2855" stroke="#524f86" stroke-width="2.4" stroke-linejoin="round"/>
<polygon points="1544.6,1006.1 1535.9,971.4 1559.7,945.1 1563.1,946.8 1591.3,998.6 1583.2,1018.2 1548.0,1011.2" fill="#2e2a58" stroke="#524f86" stroke-width="2.4" stroke-linejoin="round"/>
<polygon points="1508.0,1006.7 1544.6,1006.1 1548.0,1011.2 1554.8,1065.1 1515.4,1049.4 1503.0,1026.3" fill="#2c2855" stroke="#524f86" stroke-width="2.4" stroke-linejoin="round"/>
<polygon points="1614.1,723.2 1598.6,602.7 1564.1,693.2 1578.7,728.3" fill="#2c2855" stroke="#524f86" stroke-width="2.4" stroke-linejoin="round"/>
<polygon points="1627.4,755.8 1614.1,723.2 1578.7,728.3 1571.3,763.5 1589.9,772.8" fill="#2c2855" stroke="#524f86" stroke-width="2.4" stroke-linejoin="round"/>
<polygon points="1570.0,829.9 1562.2,790.1 1567.8,764.4 1571.3,763.5 1589.9,772.8 1610.6,815.2 1582.3,837.3" fill="#2c2855" stroke="#524f86" stroke-width="2.4" stroke-linejoin="round"/>
<polygon points="1582.3,837.3 1610.6,815.2 1634.6,828.2 1629.8,864.9 1604.1,867.2" fill="#2e2a58" stroke="#524f86" stroke-width="2.4" stroke-linejoin="round"/>
<polygon points="1570.0,829.9 1558.1,842.9 1558.1,866.7 1583.3,909.8 1606.8,907.7 1604.1,867.2 1582.3,837.3" fill="#302b5c" stroke="#524f86" stroke-width="2.4" stroke-linejoin="round"/>
<polygon points="1583.3,909.8 1581.1,925.0 1617.6,976.8 1622.4,965.5 1617.4,919.8 1606.8,907.7" fill="#2c2855" stroke="#524f86" stroke-width="2.4" stroke-linejoin="round"/>
<polygon points="1591.3,998.6 1617.1,1002.4 1617.6,976.8 1581.1,925.0 1563.1,946.8" fill="#302b5c" stroke="#524f86" stroke-width="2.4" stroke-linejoin="round"/>
<polygon points="1583.2,1018.2 1596.5,1065.5 1617.4,1081.2 1635.8,1063.9 1625.5,1014.6 1617.1,1002.4 1591.3,998.6" fill="#302b5c" stroke="#524f86" stroke-width="2.4" stroke-linejoin="round"/>
<polygon points="1554.8,1065.1 1569.4,1090.2 1596.5,1065.5 1583.2,1018.2 1548.0,1011.2" fill="#2e2a58" stroke="#524f86" stroke-width="2.4" stroke-linejoin="round"/>
<polygon points="1569.4,1090.2 1585.1,1191.7 1626.4,1121.2 1617.4,1081.2 1596.5,1065.5" fill="#2e2a58" stroke="#524f86" stroke-width="2.4" stroke-linejoin="round"/>
<polygon points="1634.6,828.2 1610.6,815.2 1589.9,772.8 1627.4,755.8 1629.7,758.3 1645.5,820.3" fill="#2c2855" stroke="#524f86" stroke-width="2.4" stroke-linejoin="round"/>
<polygon points="1606.8,907.7 1617.4,919.8 1658.1,921.3 1629.8,864.9 1604.1,867.2" fill="#2c2855" stroke="#524f86" stroke-width="2.4" stroke-linejoin="round"/>
<polygon points="1622.4,965.5 1617.4,919.8 1658.1,921.3 1727.1,979.3" fill="#302b5c" stroke="#524f86" stroke-width="2.4" stroke-linejoin="round"/>
</g>
<clipPath id="c4r"><polygon points="1553.0,750.0 1758.0,660.0 1743.0,910.0 1552.0,1018.0"/></clipPath>
<g clip-path="url(#c4r)">
<polygon points="1553.0,750.0 1758.0,660.0 1743.0,910.0 1552.0,1018.0" fill="#2e2a58"/>
<polygon points="1529.2,746.2 1515.1,782.5 1431.6,788.6 1500.7,728.7 1528.8,739.5" fill="#2e2a58" stroke="#56548c" stroke-width="2.4" stroke-linejoin="round"/>
<polygon points="1540.3,804.9 1542.4,823.4 1513.4,861.8 1505.0,864.0 1495.3,844.8 1517.4,797.9" fill="#2e2a58" stroke="#56548c" stroke-width="2.4" stroke-linejoin="round"/>
<polygon points="1513.4,861.8 1533.6,877.0 1518.7,925.6 1489.9,912.7 1505.0,864.0" fill="#2c2855" stroke="#56548c" stroke-width="2.4" stroke-linejoin="round"/>
<polygon points="1529.9,979.9 1526.3,966.1 1516.4,954.1 1479.3,991.3 1508.8,1015.4" fill="#302b5c" stroke="#56548c" stroke-width="2.4" stroke-linejoin="round"/>
<polygon points="1516.8,1108.6 1485.6,1065.3 1504.3,1043.6 1532.4,1044.2 1536.1,1056.2" fill="#2c2855" stroke="#56548c" stroke-width="2.4" stroke-linejoin="round"/>
<polygon points="1577.1,736.3 1556.1,751.6 1529.2,746.2 1528.8,739.5 1551.6,688.9 1577.8,720.9" fill="#2e2a58" stroke="#56548c" stroke-width="2.4" stroke-linejoin="round"/>
<polygon points="1556.1,751.6 1552.0,789.8 1540.3,804.9 1517.4,797.9 1515.1,782.5 1529.2,746.2" fill="#2e2a58" stroke="#56548c" stroke-width="2.4" stroke-linejoin="round"/>
<polygon points="1552.0,789.8 1582.7,781.8 1583.0,782.4 1578.9,808.2 1560.1,838.9 1542.4,823.4 1540.3,804.9" fill="#2c2855" stroke="#56548c" stroke-width="2.4" stroke-linejoin="round"/>
<polygon points="1542.4,823.4 1513.4,861.8 1533.6,877.0 1559.5,857.7 1560.1,838.9" fill="#2c2855" stroke="#56548c" stroke-width="2.4" stroke-linejoin="round"/>
<polygon points="1572.1,873.8 1559.5,857.7 1533.6,877.0 1518.7,925.6 1519.2,927.0 1555.0,907.0" fill="#2e2a58" stroke="#56548c" stroke-width="2.4" stroke-linejoin="round"/>
<polygon points="1555.0,907.0 1519.2,927.0 1516.4,954.1 1526.3,966.1 1556.4,930.0" fill="#2e2a58" stroke="#56548c" stroke-width="2.4" stroke-linejoin="round"/>
<polygon points="1556.4,930.0 1526.3,966.1 1529.9,979.9 1546.3,987.0 1571.1,950.2 1571.7,945.1" fill="#2c2855" stroke="#56548c" stroke-width="2.4" stroke-linejoin="round"/>
<polygon points="1547.3,997.2 1546.3,987.0 1529.9,979.9 1508.8,1015.4 1504.3,1043.6 1532.4,1044.2" fill="#2e2a58" stroke="#56548c" stroke-width="2.4" stroke-linejoin="round"/>
<polygon points="1536.1,1056.2 1532.4,1044.2 1547.3,997.2 1571.1,1003.7 1565.3,1043.9 1558.3,1052.2" fill="#2c2855" stroke="#56548c" stroke-width="2.4" stroke-linejoin="round"/>
<polygon points="1577.8,720.9 1603.8,679.8 1568.8,554.0 1551.6,688.9" fill="#302b5c" stroke="#56548c" stroke-width="2.4" stroke-linejoin="round"/>
<polygon points="1577.1,736.3 1587.3,744.6 1616.8,724.4 1616.9,687.5 1603.8,679.8 1577.8,720.9" fill="#2c2855" stroke="#56548c" stroke-width="2.4" stroke-linejoin="round"/>
<polygon points="1577.1,736.3 1587.3,744.6 1582.7,781.8 1552.0,789.8 1556.1,751.6" fill="#302b5c" stroke="#56548c" stroke-width="2.4" stroke-linejoin="round"/>
<polygon points="1578.9,808.2 1602.3,818.6 1615.2,799.5 1612.3,775.9 1583.0,782.4" fill="#2c2855" stroke="#56548c" stroke-width="2.4" stroke-linejoin="round"/>
<polygon points="1572.6,873.7 1598.8,844.7 1602.3,818.6 1578.9,808.2 1560.1,838.9 1559.5,857.7 1572.1,873.8" fill="#302b5c" stroke="#56548c" stroke-width="2.4" stroke-linejoin="round"/>
<polygon points="1572.6,873.7 1598.8,844.7 1621.4,847.9 1621.0,867.1 1619.6,872.5 1588.3,897.8" fill="#2c2855" stroke="#56548c" stroke-width="2.4" stroke-linejoin="round"/>
<polygon points="1572.6,873.7 1588.3,897.8 1587.6,916.5 1571.7,945.1 1556.4,930.0 1555.0,907.0 1572.1,873.8" fill="#2c2855" stroke="#56548c" stroke-width="2.4" stroke-linejoin="round"/>
<polygon points="1587.6,916.5 1608.7,919.6 1610.5,945.9 1594.8,970.3 1571.1,950.2 1571.7,945.1" fill="#302b5c" stroke="#56548c" stroke-width="2.4" stroke-linejoin="round"/>
<polygon points="1571.1,950.2 1546.3,987.0 1547.3,997.2 1571.1,1003.7 1593.4,979.1 1594.8,970.3" fill="#302b5c" stroke="#56548c" stroke-width="2.4" stroke-linejoin="round"/>
<polygon points="1608.4,1010.9 1596.8,1036.2 1565.3,1043.9 1571.1,1003.7 1593.4,979.1 1608.4,1010.8" fill="#2c2855" stroke="#56548c" stroke-width="2.4" stroke-linejoin="round"/>
<polygon points="1650.5,681.0 1651.5,698.9 1620.7,726.5 1616.8,724.4 1616.9,687.5 1637.0,670.1" fill="#2e2a58" stroke="#56548c" stroke-width="2.4" stroke-linejoin="round"/>
<polygon points="1620.7,726.5 1616.8,724.4 1587.3,744.6 1582.7,781.8 1583.0,782.4 1612.3,775.9 1626.9,749.6" fill="#2e2a58" stroke="#56548c" stroke-width="2.4" stroke-linejoin="round"/>
<polygon points="1654.7,751.4 1656.4,763.8 1638.5,798.4 1615.2,799.5 1612.3,775.9 1626.9,749.6" fill="#302b5c" stroke="#56548c" stroke-width="2.4" stroke-linejoin="round"/>
<polygon points="1598.8,844.7 1621.4,847.9 1639.3,822.0 1638.5,798.4 1615.2,799.5 1602.3,818.6" fill="#2c2855" stroke="#56548c" stroke-width="2.4" stroke-linejoin="round"/>
<polygon points="1621.0,867.1 1621.4,847.9 1639.3,822.0 1652.9,824.3 1653.8,856.8" fill="#2e2a58" stroke="#56548c" stroke-width="2.4" stroke-linejoin="round"/>
<polygon points="1588.3,897.8 1619.6,872.5 1623.7,893.5 1608.7,919.6 1587.6,916.5" fill="#2e2a58" stroke="#56548c" stroke-width="2.4" stroke-linejoin="round"/>
<polygon points="1610.5,945.9 1634.8,938.4 1645.6,925.2 1647.6,894.2 1623.7,893.5 1608.7,919.6" fill="#2c2855" stroke="#56548c" stroke-width="2.4" stroke-linejoin="round"/>
<polygon points="1608.4,1010.8 1593.4,979.1 1594.8,970.3 1610.5,945.9 1634.8,938.4 1631.1,964.0" fill="#2c2855" stroke="#56548c" stroke-width="2.4" stroke-linejoin="round"/>
<polygon points="1650.6,978.1 1631.1,964.0 1608.4,1010.8 1608.4,1010.9 1628.5,1008.8 1648.8,986.0" fill="#2e2a58" stroke="#56548c" stroke-width="2.4" stroke-linejoin="round"/>
<polygon points="1671.7,656.3 1650.5,681.0 1637.0,670.1 1667.4,575.8" fill="#2e2a58" stroke="#56548c" stroke-width="2.4" stroke-linejoin="round"/>
<polygon points="1671.7,656.3 1690.8,673.1 1667.3,705.2 1651.5,698.9 1650.5,681.0" fill="#302b5c" stroke="#56548c" stroke-width="2.4" stroke-linejoin="round"/>
<polygon points="1667.3,705.2 1666.2,725.6 1654.7,751.4 1626.9,749.6 1620.7,726.5 1651.5,698.9" fill="#2c2855" stroke="#56548c" stroke-width="2.4" stroke-linejoin="round"/>
<polygon points="1666.2,725.6 1701.2,719.0 1690.7,760.8 1674.4,768.1 1656.4,763.8 1654.7,751.4" fill="#302b5c" stroke="#56548c" stroke-width="2.4" stroke-linejoin="round"/>
<polygon points="1638.5,798.4 1656.4,763.8 1674.4,768.1 1666.4,813.7 1652.9,824.3 1639.3,822.0" fill="#2e2a58" stroke="#56548c" stroke-width="2.4" stroke-linejoin="round"/>
<polygon points="1660.9,870.0 1671.8,863.0 1691.4,814.5 1666.4,813.7 1652.9,824.3 1653.8,856.8" fill="#302b5c" stroke="#56548c" stroke-width="2.4" stroke-linejoin="round"/>
<polygon points="1619.6,872.5 1623.7,893.5 1647.6,894.2 1660.9,870.0 1653.8,856.8 1621.0,867.1" fill="#2e2a58" stroke="#56548c" stroke-width="2.4" stroke-linejoin="round"/>
<polygon points="1687.9,897.8 1686.9,872.8 1671.8,863.0 1660.9,870.0 1647.6,894.2 1645.6,925.2 1666.8,930.0" fill="#2c2855" stroke="#56548c" stroke-width="2.4" stroke-linejoin="round"/>
<polygon points="1668.1,943.3 1650.6,978.1 1631.1,964.0 1634.8,938.4 1645.6,925.2 1666.8,930.0" fill="#2c2855" stroke="#56548c" stroke-width="2.4" stroke-linejoin="round"/>
<polygon points="1674.7,946.7 1682.3,971.0 1667.2,1005.7 1648.8,986.0 1650.6,978.1 1668.1,943.3" fill="#2e2a58" stroke="#56548c" stroke-width="2.4" stroke-linejoin="round"/>
<polygon points="1667.2,1005.7 1665.2,1117.0 1662.0,1145.9 1628.5,1008.8 1648.8,986.0" fill="#2e2a58" stroke="#56548c" stroke-width="2.4" stroke-linejoin="round"/>
<polygon points="1737.6,661.1 1712.1,701.3 1698.2,669.2 1712.9,644.1 1732.3,644.6" fill="#302b5c" stroke="#56548c" stroke-width="2.4" stroke-linejoin="round"/>
<polygon points="1667.3,705.2 1666.2,725.6 1701.2,719.0 1712.3,704.5 1712.1,701.3 1698.2,669.2 1690.8,673.1" fill="#2e2a58" stroke="#56548c" stroke-width="2.4" stroke-linejoin="round"/>
<polygon points="1736.4,710.9 1737.5,720.9 1717.5,761.3 1705.1,770.5 1690.7,760.8 1701.2,719.0 1712.3,704.5" fill="#2c2855" stroke="#56548c" stroke-width="2.4" stroke-linejoin="round"/>
<polygon points="1674.4,768.1 1690.7,760.8 1705.1,770.5 1692.5,813.4 1691.4,814.5 1666.4,813.7" fill="#302b5c" stroke="#56548c" stroke-width="2.4" stroke-linejoin="round"/>
<polygon points="1729.1,813.6 1733.9,773.7 1717.5,761.3 1705.1,770.5 1692.5,813.4 1721.6,822.0" fill="#2e2a58" stroke="#56548c" stroke-width="2.4" stroke-linejoin="round"/>
<polygon points="1686.9,872.8 1717.2,839.3 1721.6,822.0 1692.5,813.4 1691.4,814.5 1671.8,863.0" fill="#2e2a58" stroke="#56548c" stroke-width="2.4" stroke-linejoin="round"/>
<polygon points="1700.5,896.8 1718.9,880.4 1723.5,859.9 1717.2,839.3 1686.9,872.8 1687.9,897.8" fill="#302b5c" stroke="#56548c" stroke-width="2.4" stroke-linejoin="round"/>
<polygon points="1700.5,896.8 1703.1,928.1 1674.7,946.7 1668.1,943.3 1666.8,930.0 1687.9,897.8" fill="#2c2855" stroke="#56548c" stroke-width="2.4" stroke-linejoin="round"/>
<polygon points="1674.7,946.7 1682.3,971.0 1709.4,955.4 1710.7,953.6 1714.3,935.1 1703.1,928.1" fill="#2e2a58" stroke="#56548c" stroke-width="2.4" stroke-linejoin="round"/>
<polygon points="1682.3,971.0 1709.4,955.4 1665.2,1117.0 1667.2,1005.7" fill="#2c2855" stroke="#56548c" stroke-width="2.4" stroke-linejoin="round"/>
<polygon points="1754.0,666.3 1737.6,661.1 1732.3,644.6 1768.1,610.5 1774.2,617.9 1767.0,653.1" fill="#2e2a58" stroke="#56548c" stroke-width="2.4" stroke-linejoin="round"/>
<polygon points="1754.0,666.3 1742.5,700.6 1736.4,710.9 1712.3,704.5 1712.1,701.3 1737.6,661.1" fill="#302b5c" stroke="#56548c" stroke-width="2.4" stroke-linejoin="round"/>
<polygon points="1742.5,700.6 1786.3,678.7 1783.2,713.5 1765.1,727.7 1737.5,720.9 1736.4,710.9" fill="#2e2a58" stroke="#56548c" stroke-width="2.4" stroke-linejoin="round"/>
<polygon points="1717.5,761.3 1737.5,720.9 1765.1,727.7 1755.2,756.6 1733.9,773.7" fill="#2e2a58" stroke="#56548c" stroke-width="2.4" stroke-linejoin="round"/>
<polygon points="1764.5,775.7 1755.2,756.6 1733.9,773.7 1729.1,813.6 1750.4,806.5 1760.8,787.8" fill="#2c2855" stroke="#56548c" stroke-width="2.4" stroke-linejoin="round"/>
<polygon points="1729.1,813.6 1750.4,806.5 1762.2,832.6 1759.8,837.7 1723.5,859.9 1717.2,839.3 1721.6,822.0" fill="#2e2a58" stroke="#56548c" stroke-width="2.4" stroke-linejoin="round"/>
<polygon points="1732.4,891.6 1756.4,858.1 1759.8,837.7 1723.5,859.9 1718.9,880.4" fill="#302b5c" stroke="#56548c" stroke-width="2.4" stroke-linejoin="round"/>
<polygon points="1700.5,896.8 1718.9,880.4 1732.4,891.6 1731.7,909.4 1714.3,935.1 1703.1,928.1" fill="#2c2855" stroke="#56548c" stroke-width="2.4" stroke-linejoin="round"/>
<polygon points="1731.7,909.4 1749.8,910.1 1752.7,936.1 1733.1,962.6 1710.7,953.6 1714.3,935.1" fill="#2c2855" stroke="#56548c" stroke-width="2.4" stroke-linejoin="round"/>
<polygon points="1767.0,653.1 1790.1,667.4 1796.3,661.1 1814.8,609.6 1814.5,608.1 1806.2,607.4 1774.2,617.9" fill="#302b5c" stroke="#56548c" stroke-width="2.4" stroke-linejoin="round"/>
<polygon points="1754.0,666.3 1742.5,700.6 1786.3,678.7 1790.1,667.4 1767.0,653.1" fill="#2e2a58" stroke="#56548c" stroke-width="2.4" stroke-linejoin="round"/>
<polygon points="1811.0,704.5 1821.4,659.4 1796.3,661.1 1790.1,667.4 1786.3,678.7 1783.2,713.5 1795.6,718.1" fill="#2e2a58" stroke="#56548c" stroke-width="2.4" stroke-linejoin="round"/>
<polygon points="1764.5,775.7 1755.2,756.6 1765.1,727.7 1783.2,713.5 1795.6,718.1 1795.0,747.1" fill="#2c2855" stroke="#56548c" stroke-width="2.4" stroke-linejoin="round"/>
<polygon points="1764.5,775.7 1795.0,747.1 1799.8,752.8 1801.1,776.0 1796.0,787.8 1760.8,787.8" fill="#302b5c" stroke="#56548c" stroke-width="2.4" stroke-linejoin="round"/>
<polygon points="1760.8,787.8 1750.4,806.5 1762.2,832.6 1790.5,813.2 1796.0,787.8" fill="#302b5c" stroke="#56548c" stroke-width="2.4" stroke-linejoin="round"/>
<polygon points="1772.1,878.8 1756.4,858.1 1759.8,837.7 1762.2,832.6 1790.5,813.2 1803.7,825.4 1803.6,827.8 1775.5,877.3" fill="#2c2855" stroke="#56548c" stroke-width="2.4" stroke-linejoin="round"/>
<polygon points="1731.7,909.4 1749.8,910.1 1772.1,878.8 1756.4,858.1 1732.4,891.6" fill="#2c2855" stroke="#56548c" stroke-width="2.4" stroke-linejoin="round"/>
<polygon points="1772.1,878.8 1749.8,910.1 1752.7,936.1 1777.5,933.9 1792.7,908.3 1793.2,900.2 1775.5,877.3" fill="#2e2a58" stroke="#56548c" stroke-width="2.4" stroke-linejoin="round"/>
<polygon points="1821.4,659.4 1796.3,661.1 1814.8,609.6 1855.4,632.4" fill="#2e2a58" stroke="#56548c" stroke-width="2.4" stroke-linejoin="round"/>
<polygon points="1795.0,747.1 1795.6,718.1 1811.0,704.5 1903.8,674.6 1799.8,752.8" fill="#2c2855" stroke="#56548c" stroke-width="2.4" stroke-linejoin="round"/>
<polygon points="1796.0,787.8 1790.5,813.2 1803.7,825.4 1881.8,739.3 1801.1,776.0" fill="#2e2a58" stroke="#56548c" stroke-width="2.4" stroke-linejoin="round"/>
<polygon points="1775.5,877.3 1803.6,827.8 1819.3,849.8 1793.2,900.2" fill="#2c2855" stroke="#56548c" stroke-width="2.4" stroke-linejoin="round"/>
</g>
<clipPath id="c4t"><polygon points="1347.0,655.0 1545.0,576.0 1758.0,660.0 1553.0,750.0"/></clipPath>
<g clip-path="url(#c4t)">
<polygon points="1347.0,655.0 1545.0,576.0 1758.0,660.0 1553.0,750.0" fill="#40389a"/>
<polygon points="1304.6,650.3 1272.3,651.4 1150.6,721.6 1314.3,668.5 1312.2,658.0" fill="#3c3a9e" stroke="#9c94e8" stroke-width="3.2" stroke-linejoin="round"/>
<polygon points="1362.7,676.1 1353.8,676.0 1296.7,725.3 1389.3,696.2 1392.7,690.6" fill="#44389c" stroke="#9c94e8" stroke-width="3.2" stroke-linejoin="round"/>
<polygon points="1465.6,725.5 1457.0,736.5 1381.3,740.4 1413.4,713.4 1452.1,713.7" fill="#2a50a8" stroke="#9c94e8" stroke-width="3.2" stroke-linejoin="round"/>
<polygon points="1509.4,747.5 1470.3,745.9 1455.8,782.8 1514.1,768.8 1528.4,754.8" fill="#2a50a8" stroke="#9c94e8" stroke-width="3.2" stroke-linejoin="round"/>
<polygon points="1304.6,650.3 1272.3,651.4 1133.5,583.8 1308.2,636.9" fill="#44389c" stroke="#9c94e8" stroke-width="3.2" stroke-linejoin="round"/>
<polygon points="1368.9,644.0 1334.5,633.2 1308.2,636.9 1304.6,650.3 1312.2,658.0 1366.5,653.1" fill="#44389c" stroke="#9c94e8" stroke-width="3.2" stroke-linejoin="round"/>
<polygon points="1374.9,664.9 1362.7,676.1 1353.8,676.0 1314.3,668.5 1312.2,658.0 1366.5,653.1" fill="#44389c" stroke="#9c94e8" stroke-width="3.2" stroke-linejoin="round"/>
<polygon points="1411.9,663.8 1434.3,675.9 1401.4,689.5 1392.7,690.6 1362.7,676.1 1374.9,664.9" fill="#44389c" stroke="#9c94e8" stroke-width="3.2" stroke-linejoin="round"/>
<polygon points="1401.4,689.5 1392.7,690.6 1389.3,696.2 1413.4,713.4 1452.1,713.7 1458.1,703.3" fill="#44389c" stroke="#9c94e8" stroke-width="3.2" stroke-linejoin="round"/>
<polygon points="1464.1,700.8 1505.1,706.2 1506.9,723.0 1465.6,725.5 1452.1,713.7 1458.1,703.3" fill="#2a50a8" stroke="#9c94e8" stroke-width="3.2" stroke-linejoin="round"/>
<polygon points="1465.6,725.5 1457.0,736.5 1470.3,745.9 1509.4,747.5 1517.2,725.5 1506.9,723.0" fill="#44389c" stroke="#9c94e8" stroke-width="3.2" stroke-linejoin="round"/>
<polygon points="1562.9,735.8 1551.1,752.8 1528.4,754.8 1509.4,747.5 1517.2,725.5 1538.1,725.3" fill="#2a50a8" stroke="#9c94e8" stroke-width="3.2" stroke-linejoin="round"/>
<polygon points="1528.4,754.8 1514.1,768.8 1554.3,782.3 1576.6,775.0 1577.4,763.1 1551.1,752.8" fill="#2c4ea4" stroke="#9c94e8" stroke-width="3.2" stroke-linejoin="round"/>
<polygon points="1393.3,631.1 1377.6,618.0 1341.7,621.5 1334.5,633.2 1368.9,644.0 1374.8,643.4" fill="#2a50a8" stroke="#9c94e8" stroke-width="3.2" stroke-linejoin="round"/>
<polygon points="1374.8,643.4 1368.9,644.0 1366.5,653.1 1374.9,664.9 1411.9,663.8 1418.9,650.2" fill="#2c4ea4" stroke="#9c94e8" stroke-width="3.2" stroke-linejoin="round"/>
<polygon points="1418.9,650.2 1411.9,663.8 1434.3,675.9 1443.4,676.0 1455.2,666.2 1436.2,646.3" fill="#44389c" stroke="#9c94e8" stroke-width="3.2" stroke-linejoin="round"/>
<polygon points="1434.3,675.9 1401.4,689.5 1458.1,703.3 1464.1,700.8 1470.3,685.4 1443.4,676.0" fill="#44389c" stroke="#9c94e8" stroke-width="3.2" stroke-linejoin="round"/>
<polygon points="1525.7,689.1 1524.4,698.7 1505.1,706.2 1464.1,700.8 1470.3,685.4 1505.9,681.3" fill="#2a50a8" stroke="#9c94e8" stroke-width="3.2" stroke-linejoin="round"/>
<polygon points="1552.1,711.2 1524.4,698.7 1505.1,706.2 1506.9,723.0 1517.2,725.5 1538.1,725.3" fill="#2a50a8" stroke="#9c94e8" stroke-width="3.2" stroke-linejoin="round"/>
<polygon points="1604.2,726.4 1579.6,708.1 1552.1,711.2 1538.1,725.3 1562.9,735.8 1589.3,732.7" fill="#44389c" stroke="#9c94e8" stroke-width="3.2" stroke-linejoin="round"/>
<polygon points="1589.3,732.7 1608.4,753.5 1602.1,758.1 1577.4,763.1 1551.1,752.8 1562.9,735.8" fill="#44389c" stroke="#9c94e8" stroke-width="3.2" stroke-linejoin="round"/>
<polygon points="1431.0,622.1 1424.2,632.0 1393.3,631.1 1377.6,618.0 1384.7,613.8 1406.4,613.2" fill="#2c4ea4" stroke="#9c94e8" stroke-width="3.2" stroke-linejoin="round"/>
<polygon points="1393.3,631.1 1424.2,632.0 1438.1,645.1 1436.2,646.3 1418.9,650.2 1374.8,643.4" fill="#3c3a9e" stroke="#9c94e8" stroke-width="3.2" stroke-linejoin="round"/>
<polygon points="1490.1,656.8 1487.0,661.2 1455.2,666.2 1436.2,646.3 1438.1,645.1 1469.2,643.8" fill="#2a50a8" stroke="#9c94e8" stroke-width="3.2" stroke-linejoin="round"/>
<polygon points="1487.0,661.2 1455.2,666.2 1443.4,676.0 1470.3,685.4 1505.9,681.3 1506.0,680.5" fill="#3c3a9e" stroke="#9c94e8" stroke-width="3.2" stroke-linejoin="round"/>
<polygon points="1529.6,668.1 1575.0,678.0 1566.4,685.4 1525.7,689.1 1505.9,681.3 1506.0,680.5" fill="#2c4ea4" stroke="#9c94e8" stroke-width="3.2" stroke-linejoin="round"/>
<polygon points="1566.4,685.4 1586.4,700.8 1579.6,708.1 1552.1,711.2 1524.4,698.7 1525.7,689.1" fill="#3c3a9e" stroke="#9c94e8" stroke-width="3.2" stroke-linejoin="round"/>
<polygon points="1649.6,712.2 1619.5,726.0 1604.2,726.4 1579.6,708.1 1586.4,700.8 1596.3,700.1" fill="#44389c" stroke="#9c94e8" stroke-width="3.2" stroke-linejoin="round"/>
<polygon points="1619.5,726.0 1604.2,726.4 1589.3,732.7 1608.4,753.5 1640.3,748.3 1641.9,739.5" fill="#44389c" stroke="#9c94e8" stroke-width="3.2" stroke-linejoin="round"/>
<polygon points="1406.4,613.2 1384.7,613.8 1337.9,575.2 1415.0,597.1 1419.0,600.4" fill="#3c3a9e" stroke="#9c94e8" stroke-width="3.2" stroke-linejoin="round"/>
<polygon points="1462.6,605.8 1419.0,600.4 1406.4,613.2 1431.0,622.1 1449.6,619.8" fill="#2a50a8" stroke="#9c94e8" stroke-width="3.2" stroke-linejoin="round"/>
<polygon points="1485.2,633.2 1469.2,643.8 1438.1,645.1 1424.2,632.0 1431.0,622.1 1449.6,619.8" fill="#44389c" stroke="#9c94e8" stroke-width="3.2" stroke-linejoin="round"/>
<polygon points="1507.7,630.2 1528.5,635.5 1523.1,654.5 1490.1,656.8 1469.2,643.8 1485.2,633.2" fill="#44389c" stroke="#9c94e8" stroke-width="3.2" stroke-linejoin="round"/>
<polygon points="1523.1,654.5 1532.4,658.4 1529.6,668.1 1506.0,680.5 1487.0,661.2 1490.1,656.8" fill="#2a50a8" stroke="#9c94e8" stroke-width="3.2" stroke-linejoin="round"/>
<polygon points="1532.4,658.4 1581.4,659.1 1584.9,661.2 1580.5,675.4 1575.0,678.0 1529.6,668.1" fill="#3c3a9e" stroke="#9c94e8" stroke-width="3.2" stroke-linejoin="round"/>
<polygon points="1575.0,678.0 1580.5,675.4 1635.1,685.4 1596.3,700.1 1586.4,700.8 1566.4,685.4" fill="#44389c" stroke="#9c94e8" stroke-width="3.2" stroke-linejoin="round"/>
<polygon points="1655.5,691.3 1654.6,711.1 1649.6,712.2 1596.3,700.1 1635.1,685.4 1638.9,685.2" fill="#3c3a9e" stroke="#9c94e8" stroke-width="3.2" stroke-linejoin="round"/>
<polygon points="1654.6,711.1 1687.5,717.8 1690.5,732.7 1641.9,739.5 1619.5,726.0 1649.6,712.2" fill="#44389c" stroke="#9c94e8" stroke-width="3.2" stroke-linejoin="round"/>
<polygon points="1462.6,605.8 1419.0,600.4 1415.0,597.1 1446.1,583.3 1471.1,586.3 1487.2,595.4 1478.7,602.0" fill="#2a50a8" stroke="#9c94e8" stroke-width="3.2" stroke-linejoin="round"/>
<polygon points="1507.7,630.2 1485.2,633.2 1449.6,619.8 1462.6,605.8 1478.7,602.0 1507.7,625.8" fill="#44389c" stroke="#9c94e8" stroke-width="3.2" stroke-linejoin="round"/>
<polygon points="1507.7,630.2 1528.5,635.5 1554.4,634.6 1562.0,618.3 1545.0,606.5 1507.7,625.8" fill="#44389c" stroke="#9c94e8" stroke-width="3.2" stroke-linejoin="round"/>
<polygon points="1528.5,635.5 1554.4,634.6 1578.3,640.7 1581.4,659.1 1532.4,658.4 1523.1,654.5" fill="#3c3a9e" stroke="#9c94e8" stroke-width="3.2" stroke-linejoin="round"/>
<polygon points="1613.0,660.7 1584.9,661.2 1581.4,659.1 1578.3,640.7 1599.8,636.3 1607.1,636.4 1645.3,645.0" fill="#44389c" stroke="#9c94e8" stroke-width="3.2" stroke-linejoin="round"/>
<polygon points="1644.2,671.1 1638.9,685.2 1635.1,685.4 1580.5,675.4 1584.9,661.2 1613.0,660.7" fill="#2a50a8" stroke="#9c94e8" stroke-width="3.2" stroke-linejoin="round"/>
<polygon points="1704.4,679.8 1691.7,686.5 1655.5,691.3 1638.9,685.2 1644.2,671.1 1668.6,664.0" fill="#3c3a9e" stroke="#9c94e8" stroke-width="3.2" stroke-linejoin="round"/>
<polygon points="1714.9,707.4 1710.8,711.8 1687.5,717.8 1654.6,711.1 1655.5,691.3 1691.7,686.5" fill="#44389c" stroke="#9c94e8" stroke-width="3.2" stroke-linejoin="round"/>
<polygon points="1742.1,699.0 1900.6,761.2 1710.8,711.8 1714.9,707.4" fill="#44389c" stroke="#9c94e8" stroke-width="3.2" stroke-linejoin="round"/>
<polygon points="1446.1,583.3 1471.1,586.3 1481.2,567.1 1320.4,537.0" fill="#2a50a8" stroke="#9c94e8" stroke-width="3.2" stroke-linejoin="round"/>
<polygon points="1481.2,567.1 1471.1,586.3 1487.2,595.4 1516.8,594.8 1534.4,580.0 1509.9,565.5 1489.4,565.4" fill="#2a50a8" stroke="#9c94e8" stroke-width="3.2" stroke-linejoin="round"/>
<polygon points="1507.7,625.8 1545.0,606.5 1544.3,603.8 1516.8,594.8 1487.2,595.4 1478.7,602.0" fill="#3c3a9e" stroke="#9c94e8" stroke-width="3.2" stroke-linejoin="round"/>
<polygon points="1545.0,606.5 1544.3,603.8 1580.6,598.6 1610.7,603.7 1613.0,610.6 1596.2,617.8 1562.0,618.3" fill="#2a50a8" stroke="#9c94e8" stroke-width="3.2" stroke-linejoin="round"/>
<polygon points="1554.4,634.6 1578.3,640.7 1599.8,636.3 1596.2,617.8 1562.0,618.3" fill="#2a50a8" stroke="#9c94e8" stroke-width="3.2" stroke-linejoin="round"/>
<polygon points="1645.3,645.0 1607.1,636.4 1639.3,619.8 1646.3,620.5 1649.2,644.9" fill="#44389c" stroke="#9c94e8" stroke-width="3.2" stroke-linejoin="round"/>
<polygon points="1668.6,664.0 1644.2,671.1 1613.0,660.7 1645.3,645.0 1649.2,644.9 1663.6,646.7 1672.8,656.0" fill="#2c4ea4" stroke="#9c94e8" stroke-width="3.2" stroke-linejoin="round"/>
<polygon points="1724.8,677.0 1704.4,679.8 1668.6,664.0 1672.8,656.0 1707.0,657.3 1728.8,669.2" fill="#44389c" stroke="#9c94e8" stroke-width="3.2" stroke-linejoin="round"/>
<polygon points="1724.8,677.0 1752.0,685.7 1742.1,699.0 1714.9,707.4 1691.7,686.5 1704.4,679.8" fill="#44389c" stroke="#9c94e8" stroke-width="3.2" stroke-linejoin="round"/>
<polygon points="1557.2,578.1 1534.4,580.0 1509.9,565.5 1521.3,560.0 1565.4,566.7" fill="#3c3a9e" stroke="#9c94e8" stroke-width="3.2" stroke-linejoin="round"/>
<polygon points="1516.8,594.8 1534.4,580.0 1557.2,578.1 1577.7,583.4 1580.6,598.6 1544.3,603.8" fill="#3c3a9e" stroke="#9c94e8" stroke-width="3.2" stroke-linejoin="round"/>
<polygon points="1617.9,577.0 1577.7,583.4 1580.6,598.6 1610.7,603.7 1626.9,597.5" fill="#44389c" stroke="#9c94e8" stroke-width="3.2" stroke-linejoin="round"/>
<polygon points="1639.3,619.8 1607.1,636.4 1599.8,636.3 1596.2,617.8 1613.0,610.6" fill="#2c4ea4" stroke="#9c94e8" stroke-width="3.2" stroke-linejoin="round"/>
<polygon points="1649.2,644.9 1646.3,620.5 1676.7,617.5 1683.6,619.9 1686.4,638.2 1663.6,646.7" fill="#2a50a8" stroke="#9c94e8" stroke-width="3.2" stroke-linejoin="round"/>
<polygon points="1707.0,657.3 1730.4,641.4 1686.4,638.2 1663.6,646.7 1672.8,656.0" fill="#2a50a8" stroke="#9c94e8" stroke-width="3.2" stroke-linejoin="round"/>
<polygon points="1728.8,669.2 1763.0,655.3 1762.8,654.3 1735.7,640.8 1730.4,641.4 1707.0,657.3" fill="#44389c" stroke="#9c94e8" stroke-width="3.2" stroke-linejoin="round"/>
<polygon points="1724.8,677.0 1752.0,685.7 1764.7,685.1 1793.5,666.1 1763.0,655.3 1728.8,669.2" fill="#3c3a9e" stroke="#9c94e8" stroke-width="3.2" stroke-linejoin="round"/>
<polygon points="1891.3,718.4 1821.1,665.8 1793.5,666.1 1764.7,685.1" fill="#3c3a9e" stroke="#9c94e8" stroke-width="3.2" stroke-linejoin="round"/>
<polygon points="1464.5,523.6 1528.1,549.3 1521.3,560.0 1509.9,565.5 1489.4,565.4" fill="#44389c" stroke="#9c94e8" stroke-width="3.2" stroke-linejoin="round"/>
<polygon points="1565.4,566.7 1576.8,562.5 1576.4,559.4 1561.8,548.0 1528.1,549.3 1521.3,560.0" fill="#44389c" stroke="#9c94e8" stroke-width="3.2" stroke-linejoin="round"/>
<polygon points="1622.1,573.7 1576.8,562.5 1565.4,566.7 1557.2,578.1 1577.7,583.4 1617.9,577.0" fill="#2c4ea4" stroke="#9c94e8" stroke-width="3.2" stroke-linejoin="round"/>
<polygon points="1622.1,573.7 1638.3,570.0 1677.2,583.3 1668.7,597.6 1626.9,597.5 1617.9,577.0" fill="#44389c" stroke="#9c94e8" stroke-width="3.2" stroke-linejoin="round"/>
<polygon points="1668.7,597.6 1676.9,602.0 1676.7,617.5 1646.3,620.5 1639.3,619.8 1613.0,610.6 1610.7,603.7 1626.9,597.5" fill="#44389c" stroke="#9c94e8" stroke-width="3.2" stroke-linejoin="round"/>
<polygon points="1676.7,617.5 1683.6,619.9 1726.2,619.3 1736.3,611.0 1710.8,600.4 1676.9,602.0" fill="#44389c" stroke="#9c94e8" stroke-width="3.2" stroke-linejoin="round"/>
<polygon points="1730.4,641.4 1735.7,640.8 1743.9,632.1 1726.2,619.3 1683.6,619.9 1686.4,638.2" fill="#2c4ea4" stroke="#9c94e8" stroke-width="3.2" stroke-linejoin="round"/>
<polygon points="1777.8,627.9 1743.9,632.1 1735.7,640.8 1762.8,654.3 1798.2,641.6 1799.8,638.1" fill="#44389c" stroke="#9c94e8" stroke-width="3.2" stroke-linejoin="round"/>
<polygon points="1763.0,655.3 1793.5,666.1 1821.1,665.8 1830.9,657.6 1798.2,641.6 1762.8,654.3" fill="#44389c" stroke="#9c94e8" stroke-width="3.2" stroke-linejoin="round"/>
<polygon points="1622.1,573.7 1576.8,562.5 1576.4,559.4 1657.7,546.3 1638.3,570.0" fill="#3c3a9e" stroke="#9c94e8" stroke-width="3.2" stroke-linejoin="round"/>
<polygon points="1677.2,583.3 1748.8,573.2 1710.8,600.4 1676.9,602.0 1668.7,597.6" fill="#2c4ea4" stroke="#9c94e8" stroke-width="3.2" stroke-linejoin="round"/>
<polygon points="1777.8,627.9 1743.9,632.1 1726.2,619.3 1736.3,611.0 1811.4,595.5" fill="#44389c" stroke="#9c94e8" stroke-width="3.2" stroke-linejoin="round"/>
<polygon points="1799.8,638.1 1798.2,641.6 1830.9,657.6 1848.8,651.9 1857.0,628.2" fill="#44389c" stroke="#9c94e8" stroke-width="3.2" stroke-linejoin="round"/>
</g>
<rect x="2130.5" y="36.5" width="1082.0" height="872.0" fill="none" stroke="#111" stroke-width="3"/>
<line x1="2130.5" y1="908.5" x2="2143.5" y2="908.5" stroke="#111" stroke-width="3"/>
<text x="2109.5" y="923.5" font-size="56" fill="#111" text-anchor="end">0</text>
<line x1="2130.5" y1="821.3" x2="2143.5" y2="821.3" stroke="#111" stroke-width="3"/>
<text x="2109.5" y="836.3" font-size="56" fill="#111" text-anchor="end">100</text>
<line x1="2130.5" y1="734.1" x2="2143.5" y2="734.1" stroke="#111" stroke-width="3"/>
<text x="2109.5" y="749.1" font-size="56" fill="#111" text-anchor="end">200</text>
<line x1="2130.5" y1="646.9" x2="2143.5" y2="646.9" stroke="#111" stroke-width="3"/>
<text x="2109.5" y="661.9" font-size="56" fill="#111" text-anchor="end">300</text>
<line x1="2130.5" y1="559.7" x2="2143.5" y2="559.7" stroke="#111" stroke-width="3"/>
<text x="2109.5" y="574.7" font-size="56" fill="#111" text-anchor="end">400</text>
<line x1="2130.5" y1="472.5" x2="2143.5" y2="472.5" stroke="#111" stroke-width="3"/>
<text x="2109.5" y="487.5" font-size="56" fill="#111" text-anchor="end">500</text>
<line x1="2130.5" y1="385.29999999999995" x2="2143.5" y2="385.29999999999995" stroke="#111" stroke-width="3"/>
<text x="2109.5" y="400.29999999999995" font-size="56" fill="#111" text-anchor="end">600</text>
<line x1="2130.5" y1="298.1" x2="2143.5" y2="298.1" stroke="#111" stroke-width="3"/>
<text x="2109.5" y="313.1" font-size="56" fill="#111" text-anchor="end">700</text>
<line x1="2130.5" y1="210.89999999999998" x2="2143.5" y2="210.89999999999998" stroke="#111" stroke-width="3"/>
<text x="2109.5" y="225.89999999999998" font-size="56" fill="#111" text-anchor="end">800</text>
<line x1="2130.5" y1="123.70000000000005" x2="2143.5" y2="123.70000000000005" stroke="#111" stroke-width="3"/>
<text x="2109.5" y="138.70000000000005" font-size="56" fill="#111" text-anchor="end">900</text>
<line x1="2130.5" y1="36.5" x2="2143.5" y2="36.5" stroke="#111" stroke-width="3"/>
<text x="2109.5" y="51.5" font-size="56" fill="#111" text-anchor="end">1000</text>
<line x1="2130.5" y1="908.5" x2="2130.5" y2="894.5" stroke="#111" stroke-width="3"/>
<text x="2130.5" y="971" font-size="56" fill="#111" text-anchor="middle">0</text>
<line x1="2274.766666666667" y1="908.5" x2="2274.766666666667" y2="894.5" stroke="#111" stroke-width="3"/>
<text x="2274.766666666667" y="971" font-size="56" fill="#111" text-anchor="middle">2</text>
<line x1="2419.0333333333333" y1="908.5" x2="2419.0333333333333" y2="894.5" stroke="#111" stroke-width="3"/>
<text x="2419.0333333333333" y="971" font-size="56" fill="#111" text-anchor="middle">4</text>
<line x1="2563.3" y1="908.5" x2="2563.3" y2="894.5" stroke="#111" stroke-width="3"/>
<text x="2563.3" y="971" font-size="56" fill="#111" text-anchor="middle">6</text>
<line x1="2707.5666666666666" y1="908.5" x2="2707.5666666666666" y2="894.5" stroke="#111" stroke-width="3"/>
<text x="2707.5666666666666" y="971" font-size="56" fill="#111" text-anchor="middle">8</text>
<line x1="2851.8333333333335" y1="908.5" x2="2851.8333333333335" y2="894.5" stroke="#111" stroke-width="3"/>
<text x="2851.8333333333335" y="971" font-size="56" fill="#111" text-anchor="middle">10</text>
<line x1="2996.1" y1="908.5" x2="2996.1" y2="894.5" stroke="#111" stroke-width="3"/>
<text x="2996.1" y="971" font-size="56" fill="#111" text-anchor="middle">12</text>
<line x1="3140.366666666667" y1="908.5" x2="3140.366666666667" y2="894.5" stroke="#111" stroke-width="3"/>
<text x="3140.366666666667" y="971" font-size="56" fill="#111" text-anchor="middle">14</text>
<text x="2670.5" y="1040.5" font-size="56" fill="#111" text-anchor="middle" font-weight="300">应变/%</text>
<text x="0" y="0" font-size="56" fill="#111" text-anchor="middle" transform="translate(1970.5,471) rotate(-90)" font-weight="300">应力/MPa</text>
<circle cx="2127.8" cy="903.3" r="11.5" fill="#161616"/>
<circle cx="2133.1" cy="857.6" r="11.5" fill="#161616"/>
<circle cx="2136.9" cy="782.7" r="11.5" fill="#161616"/>
<circle cx="2145.6" cy="694.1" r="11.5" fill="#161616"/>
<circle cx="2147.7" cy="619" r="11.5" fill="#161616"/>
<circle cx="2154.8" cy="549.3" r="11.5" fill="#161616"/>
<circle cx="2159.8" cy="471.8" r="11.5" fill="#161616"/>
<circle cx="2164.8" cy="421" r="11.5" fill="#161616"/>
<circle cx="2165.8" cy="368.9" r="11.5" fill="#161616"/>
<circle cx="2170.8" cy="315.8" r="11.5" fill="#161616"/>
<circle cx="2173.3" cy="255" r="11.5" fill="#161616"/>
<circle cx="2178.3" cy="205" r="11.5" fill="#161616"/>
<circle cx="2184" cy="153" r="11.5" fill="#161616"/>
<circle cx="2188.1" cy="111.6" r="11.5" fill="#161616"/>
<circle cx="2194.3" cy="104.3" r="11.5" fill="#161616"/>
<circle cx="2213.4" cy="99.3" r="11.5" fill="#161616"/>
<circle cx="2234.8" cy="96.5" r="11.5" fill="#161616"/>
<circle cx="2265.5" cy="94" r="11.5" fill="#161616"/>
<circle cx="2308.4" cy="85.1" r="11.5" fill="#161616"/>
<circle cx="2343.9" cy="82.3" r="11.5" fill="#161616"/>
<circle cx="2379.5" cy="80.2" r="11.5" fill="#161616"/>
<circle cx="2420.5" cy="76.5" r="11.5" fill="#161616"/>
<circle cx="2469.8" cy="75.9" r="11.5" fill="#161616"/>
<circle cx="2519.3" cy="70.1" r="11.5" fill="#161616"/>
<circle cx="2583.4" cy="68.4" r="11.5" fill="#161616"/>
<circle cx="2645.3" cy="65.2" r="11.5" fill="#161616"/>
<circle cx="2711.2" cy="64.9" r="11.5" fill="#161616"/>
<circle cx="2769.3" cy="62.6" r="11.5" fill="#161616"/>
<circle cx="2823.4" cy="61.1" r="11.5" fill="#161616"/>
<circle cx="2872.9" cy="61.1" r="11.5" fill="#161616"/>
<circle cx="2918" cy="59.3" r="11.5" fill="#161616"/>
<circle cx="2929.2" cy="59.3" r="11.5" fill="#161616"/>
<circle cx="2954.4" cy="59.7" r="11.5" fill="#161616"/>
<circle cx="2990" cy="62.6" r="11.5" fill="#161616"/>
<circle cx="3038.4" cy="58.1" r="11.5" fill="#161616"/>
<circle cx="3082.8" cy="64.2" r="11.5" fill="#161616"/>
<circle cx="3119.5" cy="64.9" r="11.5" fill="#161616"/>
<circle cx="3147.6" cy="66.5" r="11.5" fill="#161616"/>
<circle cx="3159.3" cy="66.5" r="11.5" fill="#161616"/>
<polyline fill="none" stroke="#d81c58" stroke-width="3.2" stroke-linejoin="round" points="2135.4,830.3 2136.7,812.8 2137.9,795.4 2139.2,778.1 2140.5,760.8 2141.7,743.5 2143.0,726.2 2144.3,708.8 2145.5,691.3 2146.8,673.7 2148.0,656.0 2149.3,638.1 2150.5,620.0 2151.8,600.0 2153.2,579.2 2154.5,558.0 2155.9,536.5 2157.2,514.8 2158.5,493.2 2159.8,471.8 2161.1,450.8 2162.4,430.5 2163.6,410.9 2164.8,392.4 2166.0,375.0 2166.8,363.6 2167.5,352.6 2168.3,341.9 2169.0,331.6 2169.7,321.6 2170.4,311.8 2171.1,302.2 2171.8,292.9 2172.5,283.7 2173.2,274.6 2173.9,265.6 2174.6,256.7 2175.2,249.3 2175.8,241.9 2176.3,234.5 2176.9,227.3 2177.4,220.1 2178.0,213.0 2178.6,206.2 2179.2,199.5 2179.8,193.1 2180.5,186.9 2181.2,181.1 2182.0,175.6 2182.5,172.2 2183.1,168.8 2183.7,165.6 2184.2,162.5 2184.8,159.5 2185.4,156.6 2186.0,153.8 2186.7,151.0 2187.3,148.4 2188.0,145.9 2188.6,143.4 2189.3,141.0 2189.8,139.4 2190.2,137.8 2190.7,136.2 2191.2,134.8 2191.6,133.4 2192.1,132.0 2192.6,130.6 2193.1,129.3 2193.7,128.0 2194.2,126.6 2194.9,125.3 2195.5,124.0 2196.2,122.7 2196.9,121.4 2197.6,120.1 2198.3,118.8 2199.0,117.6 2199.8,116.3 2200.6,115.1 2201.4,113.9 2202.3,112.7 2203.3,111.5 2204.3,110.3 2205.3,109.2 2206.5,107.9 2207.9,106.7 2209.2,105.5 2210.7,104.3 2212.1,103.1 2213.7,101.9 2215.2,100.8 2216.9,99.7 2218.5,98.7 2220.3,97.6 2222.0,96.7 2223.8,95.7 2225.9,94.6 2228.1,93.7 2230.4,92.7 2232.8,91.9 2235.2,91.0 2237.6,90.2 2240.1,89.5 2242.7,88.7 2245.3,88.0 2247.9,87.3 2250.6,86.5 2253.3,85.8 2256.6,84.9 2260.1,84.0 2263.6,83.1 2267.2,82.3 2270.9,81.4 2274.6,80.6 2278.3,79.8 2282.1,79.1 2286.0,78.3 2289.8,77.6 2293.7,76.9 2297.5,76.2 2301.6,75.5 2305.8,74.9 2310.1,74.2 2314.4,73.6 2318.7,73.1 2323.0,72.5 2327.3,72.0 2331.7,71.5 2336.0,71.1 2340.4,70.6 2344.7,70.1 2349.0,69.7 2353.3,69.3 2357.5,68.9 2361.8,68.5 2366.0,68.1 2370.3,67.8 2374.5,67.4 2378.8,67.1 2383.0,66.8 2387.3,66.5 2391.5,66.3 2395.8,66.0 2400.0,65.8 2404.2,65.6 2408.3,65.4 2412.4,65.3 2416.5,65.1 2420.6,65.0 2424.7,64.9 2428.8,64.8 2433.0,64.7 2437.1,64.6 2441.4,64.5 2445.6,64.4 2450.0,64.3 2454.9,64.1 2459.8,64.0 2464.8,63.8 2469.8,63.6 2474.8,63.4 2479.9,63.2 2485.1,63.0 2490.3,62.9 2495.6,62.7 2501.0,62.5 2506.4,62.4 2512.0,62.3 2518.8,62.2 2525.7,62.1 2532.8,62.1 2540.0,62.0 2547.3,62.0 2554.7,62.0 2562.2,62.0 2569.7,62.0 2577.2,62.0 2584.8,62.0 2592.4,62.0 2600.0,62.0 2608.1,62.0 2616.4,62.0 2624.7,62.0 2633.1,62.0 2641.5,62.0 2649.9,62.0 2658.4,62.0 2666.8,62.0 2675.2,62.0 2683.6,62.1 2691.8,62.1 2700.0,62.1 2707.7,62.1 2715.4,62.1 2723.1,62.1 2730.8,62.1 2738.4,62.2 2746.0,62.2 2753.5,62.2 2761.0,62.2 2768.4,62.2 2775.7,62.3 2782.9,62.3 2790.0,62.4 2796.2,62.5 2802.2,62.5 2808.2,62.6 2814.1,62.7 2820.0,62.8 2825.8,62.9 2831.6,63.0 2837.3,63.1 2843.0,63.2 2848.7,63.3 2854.3,63.4 2860.0,63.5 2865.3,63.6 2870.6,63.7 2875.9,63.9 2881.2,64.0 2886.4,64.2 2891.7,64.3 2896.8,64.5 2902.0,64.6 2907.1,64.7 2912.1,64.9 2917.1,65.0 2922.0,65.1 2926.4,65.2 2930.7,65.3 2934.9,65.4 2939.1,65.4 2943.3,65.5 2947.4,65.6 2951.5,65.7 2955.6,65.7 2959.7,65.8 2963.8,65.9 2967.9,65.9 2972.0,66.0 2976.0,66.1 2980.1,66.1 2984.2,66.2 2988.2,66.2 2992.3,66.3 2996.3,66.3 3000.4,66.4 3004.4,66.4 3008.3,66.5 3012.3,66.6 3016.2,66.6 3020.0,66.7 3023.4,66.8 3026.8,66.8 3030.0,66.9 3033.2,67.0 3036.4,67.1 3039.6,67.2 3042.8,67.3 3046.1,67.3 3049.4,67.4 3052.8,67.5 3056.3,67.6 3060.0,67.7 3064.9,67.8 3070.0,67.9 3075.2,68.1 3080.6,68.2 3086.0,68.3 3091.6,68.5 3097.2,68.6 3103.0,68.7 3108.7,68.9 3114.5,69.0 3120.2,69.2 3126.0,69.3 3132.5,69.5 3139.5,69.6 3146.7,69.8 3154.1,70.0 3161.6,70.2 3168.9,70.4 3176.1,70.5 3183.0,70.7 3189.4,70.9 3195.3,71.0 3200.6,71.1 3205.0,71.2 3206.7,71.2 3208.2,71.3 3209.6,71.3 3210.9,71.3 3212.1,71.3 3213.2,71.3 3214.3,71.3 3215.4,71.3 3216.5,71.4 3217.6,71.4 3218.8,71.4 3220,71.4"/>
<circle cx="2664" cy="300.7" r="11.5" fill="#161616"/>
<text x="2738" y="317" font-size="55.5" fill="#111">Matthew Kasemer</text>
<line x1="2614" y1="377.3" x2="2716" y2="377.3" stroke="#a82452" stroke-width="3"/>
<text x="2738" y="393.5" font-size="55.5" fill="#111" font-weight="300">参数模拟</text>
</svg></body></html>
